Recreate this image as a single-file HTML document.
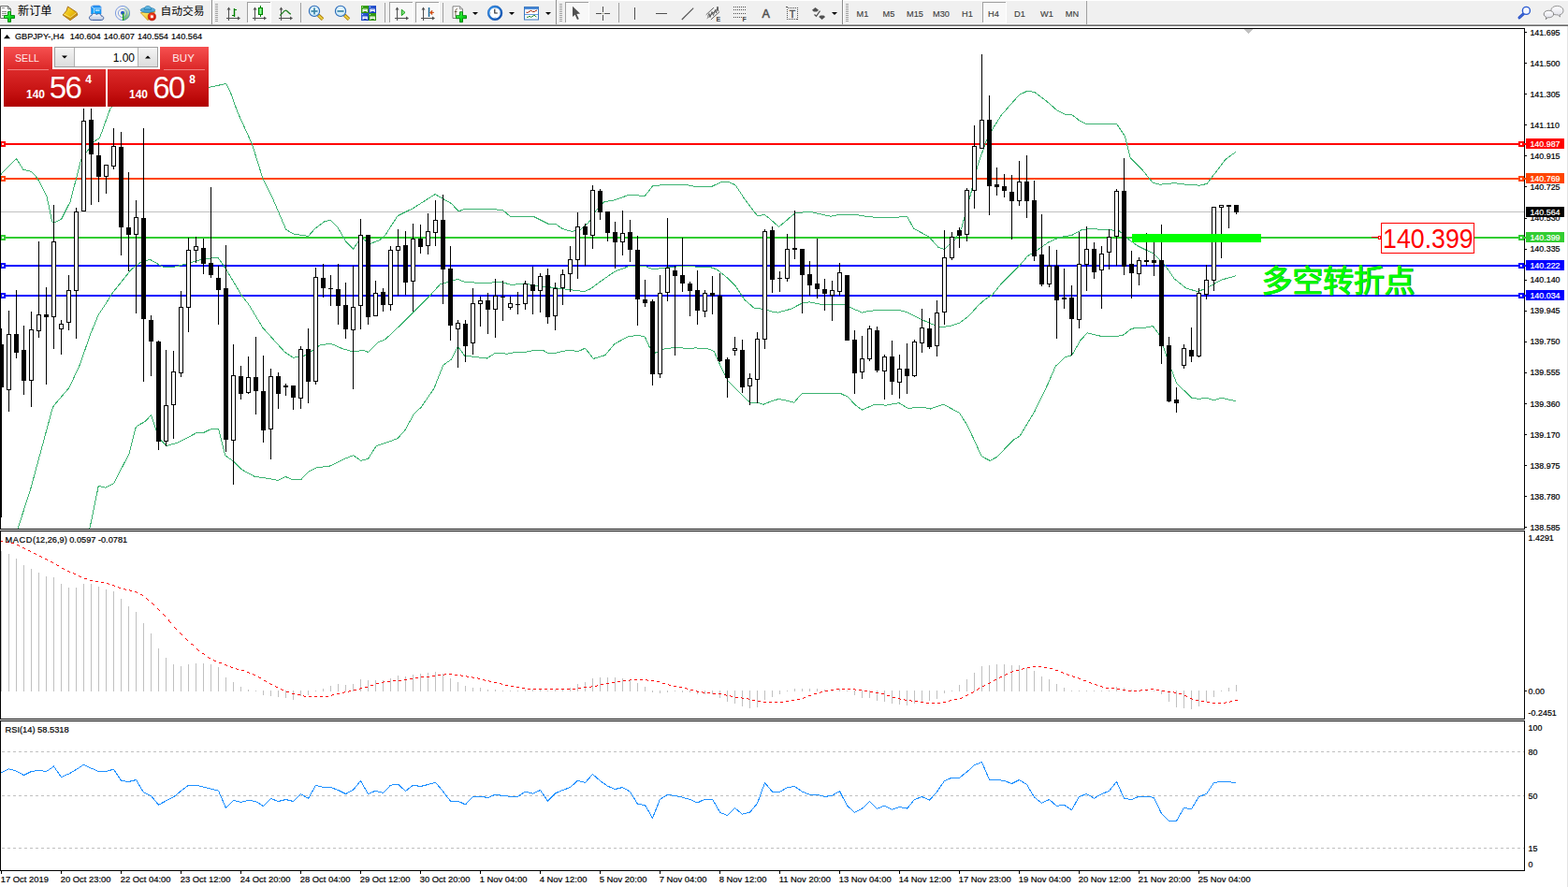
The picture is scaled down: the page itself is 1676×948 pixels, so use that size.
<!DOCTYPE html>
<html><head><meta charset="utf-8"><title>GBPJPY H4</title>
<style>
html,body{margin:0;padding:0;background:#fff}
body{width:1676px;height:948px;overflow:hidden;position:relative}
svg{position:absolute;left:0;top:0;font-family:"Liberation Sans",sans-serif}
</style></head><body>
<svg width="1676" height="948" viewBox="0 0 1676 948">
<rect x="0" y="0" width="1676" height="948" fill="#fff"/>
<g shape-rendering="crispEdges">
<rect x="1" y="226" width="1628" height="1" fill="#c0c0c0"/>
<rect x="0" y="153" width="1631" height="2" fill="#ff0000"/>
<rect x="0" y="190" width="1631" height="2" fill="#ff4500"/>
<rect x="0" y="253" width="1631" height="2" fill="#32cd32"/>
<rect x="0" y="283" width="1631" height="2" fill="#0000ff"/>
<rect x="0" y="315" width="1631" height="2" fill="#0000ff"/>
<rect x="0" y="151" width="6" height="6" fill="#ff0000"/><rect x="2" y="153" width="2" height="2" fill="#fff"/>
<rect x="1623" y="151" width="6" height="6" fill="#ff0000"/><rect x="1625" y="153" width="2" height="2" fill="#fff"/>
<rect x="0" y="188" width="6" height="6" fill="#ff4500"/><rect x="2" y="190" width="2" height="2" fill="#fff"/>
<rect x="1623" y="188" width="6" height="6" fill="#ff4500"/><rect x="1625" y="190" width="2" height="2" fill="#fff"/>
<rect x="0" y="251" width="6" height="6" fill="#32cd32"/><rect x="2" y="253" width="2" height="2" fill="#fff"/>
<rect x="1623" y="251" width="6" height="6" fill="#32cd32"/><rect x="1625" y="253" width="2" height="2" fill="#fff"/>
<rect x="0" y="281" width="6" height="6" fill="#0000ff"/><rect x="2" y="283" width="2" height="2" fill="#fff"/>
<rect x="1623" y="281" width="6" height="6" fill="#0000ff"/><rect x="1625" y="283" width="2" height="2" fill="#fff"/>
<rect x="0" y="313" width="6" height="6" fill="#0000ff"/><rect x="2" y="315" width="2" height="2" fill="#fff"/>
<rect x="1623" y="313" width="6" height="6" fill="#0000ff"/><rect x="1625" y="315" width="2" height="2" fill="#fff"/>
<polyline points="0.0,189.0 1.7,185.6 17.3,169.4 25.0,181.4 33.3,183.2 37.6,187.7 42.2,194.0 50.1,210.3 55.7,237.0 57.4,238.5 65.7,234.1 75.2,215.3 86.5,171.4 100.2,151.4 106.5,147.6 117.8,116.3 125.0,108.0 140.0,100.0 180.0,93.0 225.0,93.0 241.7,89.5 246.8,100.0 254.0,120.0 269.4,153.9 280.7,190.2 290.7,210.3 305.7,245.3 313.2,249.9 329.5,252.4 337.0,244.1 347.1,236.6 353.3,235.3 360.9,242.8 369.6,257.9 377.6,266.1 385.9,254.1 395.9,260.4 406.0,256.6 412.0,251.0 425.0,230.7 441.3,222.7 465.1,207.6 482.7,217.7 490.2,225.9 496.5,223.4 525.3,223.4 537.8,224.7 545.3,231.4 570.4,231.4 585.4,239.0 594.2,239.7 601.7,244.7 610.5,247.2 619.3,246.5 629.3,237.7 636.8,225.2 645.6,215.7 656.8,213.9 671.9,208.4 689.4,209.4 698.2,198.1 733.3,197.6 743.3,199.4 760.8,199.4 770.9,194.4 778.4,194.4 785.9,197.6 795.9,212.7 809.7,230.9 817.2,229.4 822.0,233.0 832.5,242.5 849.6,228.0 865.1,226.2 887.7,231.2 897.7,229.2 916.5,229.7 927.8,231.7 950.3,233.0 969.6,231.2 976.6,244.3 992.9,253.0 1002.9,264.3 1009.2,266.3 1020.5,256.8 1028.0,243.0 1036.8,210.4 1045.5,175.3 1054.3,150.3 1061.8,136.5 1070.6,122.7 1080.6,111.4 1089.4,101.4 1098.2,97.2 1105.7,98.4 1118.2,107.7 1129.5,117.7 1138.3,122.2 1145.8,122.7 1154.6,129.5 1160.8,132.2 1193.4,132.2 1202.2,145.3 1208.4,169.1 1221.0,181.6 1232.3,195.4 1240.0,197.2 1255.0,195.7 1267.6,197.2 1282.6,198.2 1290.1,196.4 1297.7,186.4 1310.2,170.1 1320.7,162.6" fill="none" stroke="#3cb371" stroke-width="1"/>
<polyline points="19.0,566.0 20.0,562.0 32.6,523.0 56.4,435.3 58.1,432.8 73.9,414.5 85.2,390.2 96.5,357.6 105.3,336.3 112.8,325.0 120.3,313.0 140.3,288.0 150.4,280.4 160.4,277.4 175.4,285.9 188.0,284.9 200.5,281.7 218.0,276.7 233.1,275.4 241.8,288.0 258.1,315.5 265.6,325.0 280.7,350.1 304.5,376.4 313.2,382.1 323.3,381.4 333.3,375.1 342.1,368.9 353.3,367.1 365.9,372.6 377.2,375.9 388.4,374.4 393.4,376.4 403.5,366.3 412.0,362.5 428.8,346.7 442.6,332.9 460.1,315.4 470.1,304.1 488.9,298.4 496.5,301.1 517.8,302.9 535.3,301.1 546.6,304.6 560.4,302.9 572.9,305.4 585.4,306.6 600.5,308.6 624.3,311.6 630.5,309.1 644.3,299.1 656.8,290.3 671.9,284.8 688.2,284.1 698.2,287.8 710.7,286.1 733.3,284.1 745.8,285.3 758.3,285.3 765.9,287.8 777.1,296.6 785.9,305.4 795.9,320.4 806.0,329.2 816.0,330.4 826.0,333.2 831.3,334.1 845.1,330.3 857.6,324.0 865.1,322.8 877.6,325.3 902.7,325.3 912.7,330.3 921.5,334.1 930.3,332.1 960.3,331.1 970.4,334.1 985.4,341.6 995.4,346.1 1005.4,349.6 1015.5,348.6 1025.5,345.3 1035.5,337.8 1045.5,326.6 1053.1,319.8 1060.6,315.3 1070.6,302.7 1083.1,290.2 1091.9,281.4 1098.2,273.9 1108.2,267.7 1120.7,258.9 1133.3,253.4 1145.8,251.4 1155.8,245.9 1165.8,244.4 1180.9,245.6 1195.9,246.4 1205.9,255.6 1216.0,262.7 1226.0,267.7 1233.0,271.0 1245.0,282.9 1255.1,297.9 1267.6,307.9 1280.1,311.7 1290.1,307.9 1305.2,299.2 1320.7,294.9" fill="none" stroke="#3cb371" stroke-width="1"/>
<polyline points="95.5,566.0 96.5,562.0 105.3,519.2 112.8,521.2 121.5,516.7 137.8,485.4 144.8,457.8 146.6,455.3 155.4,450.3 161.6,443.3 166.7,459.1 172.9,471.6 177.9,476.6 190.5,472.9 200.5,467.8 210.5,462.3 216.8,462.8 225.5,458.6 233.6,458.6 240.6,486.6 249.4,492.9 258.1,501.7 271.9,509.2 288.2,511.7 297.0,513.4 305.2,509.4 313.2,512.9 321.5,512.9 329.5,504.2 338.3,499.9 353.3,497.9 368.4,490.4 377.6,486.6 385.9,492.4 393.4,490.4 402.2,476.6 412.0,473.5 425.0,468.6 432.6,460.3 442.6,442.3 450.1,435.3 463.9,415.2 473.9,390.1 482.7,383.9 489.4,370.1 496.5,380.1 520.3,383.1 529.0,377.6 542.8,378.1 550.3,376.4 561.6,376.4 570.4,374.4 580.4,374.4 585.4,377.1 594.2,377.1 603.0,375.1 610.5,374.4 618.0,375.6 625.5,372.1 634.3,383.4 646.8,379.6 656.8,367.6 670.6,360.1 681.9,358.3 689.4,360.1 694.4,371.4 700.7,377.1 710.7,372.6 723.3,371.4 735.8,372.6 743.3,371.9 758.3,373.1 763.4,375.9 770.9,392.7 778.4,407.7 793.4,422.7 802.2,430.7 809.7,430.2 816.0,432.2 824.0,429.0 832.5,426.4 848.8,430.1 857.6,420.1 897.7,420.1 906.5,424.4 914.0,432.6 921.5,438.1 934.0,432.6 947.8,433.1 960.8,430.6 970.4,436.4 986.6,435.1 994.2,437.1 1008.4,432.1 1025.5,441.4 1034.3,455.2 1049.3,487.8 1058.1,492.3 1065.6,488.5 1083.1,470.2 1090.1,466.0 1105.7,440.1 1113.0,425.0 1120.0,410.5 1128.3,391.4 1138.2,382.0 1145.8,379.6 1154.6,364.1 1162.1,355.9 1175.9,359.1 1195.9,359.1 1200.9,357.9 1209.7,351.1 1223.5,350.4 1232.3,348.4 1240.0,358.8 1246.3,378.9 1251.3,392.7 1257.6,409.7 1273.9,425.2 1281.4,426.5 1288.9,425.2 1297.7,427.7 1305.2,425.2 1312.7,427.0 1320.7,428.5" fill="none" stroke="#3cb371" stroke-width="1"/>
</g>
<g shape-rendering="crispEdges">
<rect x="1" y="351" width="1" height="202" fill="#000"/>
<rect x="-1" y="368" width="5" height="46" fill="#000"/>
<rect x="9" y="332" width="1" height="108" fill="#000"/>
<rect x="7" y="357" width="5" height="60" fill="#000"/>
<rect x="8" y="358" width="3" height="58" fill="#fff"/>
<rect x="17" y="310" width="1" height="73" fill="#000"/>
<rect x="15" y="357" width="5" height="20" fill="#000"/>
<rect x="25" y="348" width="1" height="74" fill="#000"/>
<rect x="23" y="374" width="5" height="33" fill="#000"/>
<rect x="33" y="333" width="1" height="102" fill="#000"/>
<rect x="31" y="352" width="5" height="55" fill="#000"/>
<rect x="32" y="353" width="3" height="53" fill="#fff"/>
<rect x="41" y="258" width="1" height="103" fill="#000"/>
<rect x="39" y="336" width="5" height="18" fill="#000"/>
<rect x="40" y="337" width="3" height="16" fill="#fff"/>
<rect x="49" y="307" width="1" height="104" fill="#000"/>
<rect x="47" y="336" width="5" height="3" fill="#000"/>
<rect x="57" y="219" width="1" height="154" fill="#000"/>
<rect x="55" y="258" width="5" height="81" fill="#000"/>
<rect x="56" y="259" width="3" height="79" fill="#fff"/>
<rect x="65" y="342" width="1" height="37" fill="#000"/>
<rect x="63" y="346" width="5" height="6" fill="#000"/>
<rect x="64" y="347" width="3" height="4" fill="#fff"/>
<rect x="73" y="294" width="1" height="59" fill="#000"/>
<rect x="71" y="310" width="5" height="35" fill="#000"/>
<rect x="72" y="311" width="3" height="33" fill="#fff"/>
<rect x="81" y="222" width="1" height="140" fill="#000"/>
<rect x="79" y="226" width="5" height="85" fill="#000"/>
<rect x="80" y="227" width="3" height="83" fill="#fff"/>
<rect x="89" y="116" width="1" height="110" fill="#000"/>
<rect x="87" y="129" width="5" height="97" fill="#000"/>
<rect x="88" y="130" width="3" height="95" fill="#fff"/>
<rect x="97" y="116" width="1" height="103" fill="#000"/>
<rect x="95" y="128" width="5" height="37" fill="#000"/>
<rect x="105" y="152" width="1" height="64" fill="#000"/>
<rect x="103" y="166" width="5" height="23" fill="#000"/>
<rect x="113" y="176" width="1" height="31" fill="#000"/>
<rect x="111" y="176" width="5" height="13" fill="#000"/>
<rect x="112" y="177" width="3" height="11" fill="#fff"/>
<rect x="121" y="137" width="1" height="44" fill="#000"/>
<rect x="119" y="156" width="5" height="22" fill="#000"/>
<rect x="120" y="157" width="3" height="20" fill="#fff"/>
<rect x="129" y="141" width="1" height="132" fill="#000"/>
<rect x="127" y="157" width="5" height="86" fill="#000"/>
<rect x="137" y="184" width="1" height="106" fill="#000"/>
<rect x="135" y="243" width="5" height="8" fill="#000"/>
<rect x="145" y="214" width="1" height="121" fill="#000"/>
<rect x="143" y="232" width="5" height="19" fill="#000"/>
<rect x="144" y="233" width="3" height="17" fill="#fff"/>
<rect x="153" y="137" width="1" height="271" fill="#000"/>
<rect x="151" y="233" width="5" height="108" fill="#000"/>
<rect x="161" y="337" width="1" height="65" fill="#000"/>
<rect x="159" y="342" width="5" height="23" fill="#000"/>
<rect x="169" y="364" width="1" height="117" fill="#000"/>
<rect x="167" y="365" width="5" height="107" fill="#000"/>
<rect x="177" y="374" width="1" height="103" fill="#000"/>
<rect x="175" y="433" width="5" height="39" fill="#000"/>
<rect x="176" y="434" width="3" height="37" fill="#fff"/>
<rect x="185" y="375" width="1" height="94" fill="#000"/>
<rect x="183" y="397" width="5" height="36" fill="#000"/>
<rect x="184" y="398" width="3" height="34" fill="#fff"/>
<rect x="193" y="311" width="1" height="92" fill="#000"/>
<rect x="191" y="328" width="5" height="71" fill="#000"/>
<rect x="192" y="329" width="3" height="69" fill="#fff"/>
<rect x="201" y="254" width="1" height="101" fill="#000"/>
<rect x="199" y="267" width="5" height="62" fill="#000"/>
<rect x="200" y="268" width="3" height="60" fill="#fff"/>
<rect x="209" y="253" width="1" height="28" fill="#000"/>
<rect x="207" y="263" width="5" height="5" fill="#000"/>
<rect x="208" y="264" width="3" height="3" fill="#fff"/>
<rect x="217" y="255" width="1" height="38" fill="#000"/>
<rect x="215" y="265" width="5" height="17" fill="#000"/>
<rect x="225" y="200" width="1" height="97" fill="#000"/>
<rect x="223" y="281" width="5" height="13" fill="#000"/>
<rect x="233" y="284" width="1" height="63" fill="#000"/>
<rect x="231" y="297" width="5" height="13" fill="#000"/>
<rect x="241" y="262" width="1" height="221" fill="#000"/>
<rect x="239" y="308" width="5" height="162" fill="#000"/>
<rect x="249" y="368" width="1" height="150" fill="#000"/>
<rect x="247" y="401" width="5" height="70" fill="#000"/>
<rect x="248" y="402" width="3" height="68" fill="#fff"/>
<rect x="257" y="391" width="1" height="36" fill="#000"/>
<rect x="255" y="402" width="5" height="19" fill="#000"/>
<rect x="265" y="381" width="1" height="40" fill="#000"/>
<rect x="263" y="403" width="5" height="17" fill="#000"/>
<rect x="264" y="404" width="3" height="15" fill="#fff"/>
<rect x="273" y="360" width="1" height="83" fill="#000"/>
<rect x="271" y="403" width="5" height="15" fill="#000"/>
<rect x="281" y="380" width="1" height="93" fill="#000"/>
<rect x="279" y="418" width="5" height="42" fill="#000"/>
<rect x="289" y="394" width="1" height="97" fill="#000"/>
<rect x="287" y="402" width="5" height="57" fill="#000"/>
<rect x="288" y="403" width="3" height="55" fill="#fff"/>
<rect x="297" y="398" width="1" height="39" fill="#000"/>
<rect x="295" y="402" width="5" height="19" fill="#000"/>
<rect x="305" y="410" width="1" height="13" fill="#000"/>
<rect x="303" y="412" width="5" height="2" fill="#000"/>
<rect x="313" y="412" width="1" height="26" fill="#000"/>
<rect x="311" y="412" width="5" height="13" fill="#000"/>
<rect x="321" y="370" width="1" height="67" fill="#000"/>
<rect x="319" y="373" width="5" height="53" fill="#000"/>
<rect x="320" y="374" width="3" height="51" fill="#fff"/>
<rect x="329" y="351" width="1" height="80" fill="#000"/>
<rect x="327" y="373" width="5" height="35" fill="#000"/>
<rect x="337" y="286" width="1" height="125" fill="#000"/>
<rect x="335" y="296" width="5" height="112" fill="#000"/>
<rect x="336" y="297" width="3" height="110" fill="#fff"/>
<rect x="345" y="282" width="1" height="36" fill="#000"/>
<rect x="343" y="297" width="5" height="11" fill="#000"/>
<rect x="353" y="294" width="1" height="33" fill="#000"/>
<rect x="351" y="308" width="5" height="1" fill="#000"/>
<rect x="361" y="282" width="1" height="65" fill="#000"/>
<rect x="359" y="309" width="5" height="18" fill="#000"/>
<rect x="369" y="302" width="1" height="60" fill="#000"/>
<rect x="367" y="326" width="5" height="26" fill="#000"/>
<rect x="377" y="284" width="1" height="132" fill="#000"/>
<rect x="375" y="328" width="5" height="25" fill="#000"/>
<rect x="376" y="329" width="3" height="23" fill="#fff"/>
<rect x="385" y="234" width="1" height="118" fill="#000"/>
<rect x="383" y="251" width="5" height="76" fill="#000"/>
<rect x="384" y="252" width="3" height="74" fill="#fff"/>
<rect x="393" y="251" width="1" height="96" fill="#000"/>
<rect x="391" y="251" width="5" height="88" fill="#000"/>
<rect x="401" y="300" width="1" height="38" fill="#000"/>
<rect x="399" y="313" width="5" height="25" fill="#000"/>
<rect x="400" y="314" width="3" height="23" fill="#fff"/>
<rect x="409" y="308" width="1" height="25" fill="#000"/>
<rect x="407" y="312" width="5" height="14" fill="#000"/>
<rect x="417" y="263" width="1" height="69" fill="#000"/>
<rect x="415" y="267" width="5" height="59" fill="#000"/>
<rect x="416" y="268" width="3" height="57" fill="#fff"/>
<rect x="425" y="245" width="1" height="71" fill="#000"/>
<rect x="423" y="263" width="5" height="5" fill="#000"/>
<rect x="424" y="264" width="3" height="3" fill="#fff"/>
<rect x="433" y="247" width="1" height="68" fill="#000"/>
<rect x="431" y="262" width="5" height="40" fill="#000"/>
<rect x="441" y="239" width="1" height="94" fill="#000"/>
<rect x="439" y="255" width="5" height="46" fill="#000"/>
<rect x="440" y="256" width="3" height="44" fill="#fff"/>
<rect x="449" y="240" width="1" height="31" fill="#000"/>
<rect x="447" y="255" width="5" height="9" fill="#000"/>
<rect x="457" y="228" width="1" height="44" fill="#000"/>
<rect x="455" y="247" width="5" height="16" fill="#000"/>
<rect x="456" y="248" width="3" height="14" fill="#fff"/>
<rect x="465" y="214" width="1" height="49" fill="#000"/>
<rect x="463" y="235" width="5" height="14" fill="#000"/>
<rect x="464" y="236" width="3" height="12" fill="#fff"/>
<rect x="473" y="208" width="1" height="117" fill="#000"/>
<rect x="471" y="235" width="5" height="53" fill="#000"/>
<rect x="481" y="263" width="1" height="101" fill="#000"/>
<rect x="479" y="287" width="5" height="61" fill="#000"/>
<rect x="489" y="342" width="1" height="51" fill="#000"/>
<rect x="487" y="345" width="5" height="7" fill="#000"/>
<rect x="488" y="346" width="3" height="5" fill="#fff"/>
<rect x="497" y="342" width="1" height="45" fill="#000"/>
<rect x="495" y="346" width="5" height="24" fill="#000"/>
<rect x="505" y="308" width="1" height="71" fill="#000"/>
<rect x="503" y="324" width="5" height="43" fill="#000"/>
<rect x="504" y="325" width="3" height="41" fill="#fff"/>
<rect x="513" y="317" width="1" height="32" fill="#000"/>
<rect x="511" y="321" width="5" height="4" fill="#000"/>
<rect x="512" y="322" width="3" height="2" fill="#fff"/>
<rect x="521" y="313" width="1" height="44" fill="#000"/>
<rect x="519" y="321" width="5" height="10" fill="#000"/>
<rect x="529" y="298" width="1" height="63" fill="#000"/>
<rect x="527" y="316" width="5" height="15" fill="#000"/>
<rect x="528" y="317" width="3" height="13" fill="#fff"/>
<rect x="537" y="300" width="1" height="43" fill="#000"/>
<rect x="535" y="317" width="5" height="1" fill="#000"/>
<rect x="545" y="317" width="1" height="14" fill="#000"/>
<rect x="543" y="324" width="5" height="5" fill="#000"/>
<rect x="544" y="325" width="3" height="3" fill="#fff"/>
<rect x="553" y="312" width="1" height="24" fill="#000"/>
<rect x="551" y="325" width="5" height="1" fill="#000"/>
<rect x="561" y="300" width="1" height="31" fill="#000"/>
<rect x="559" y="303" width="5" height="22" fill="#000"/>
<rect x="560" y="304" width="3" height="20" fill="#fff"/>
<rect x="569" y="285" width="1" height="51" fill="#000"/>
<rect x="567" y="304" width="5" height="7" fill="#000"/>
<rect x="577" y="292" width="1" height="42" fill="#000"/>
<rect x="575" y="295" width="5" height="16" fill="#000"/>
<rect x="576" y="296" width="3" height="14" fill="#fff"/>
<rect x="585" y="287" width="1" height="59" fill="#000"/>
<rect x="583" y="294" width="5" height="45" fill="#000"/>
<rect x="593" y="302" width="1" height="51" fill="#000"/>
<rect x="591" y="308" width="5" height="30" fill="#000"/>
<rect x="592" y="309" width="3" height="28" fill="#fff"/>
<rect x="601" y="288" width="1" height="38" fill="#000"/>
<rect x="599" y="293" width="5" height="15" fill="#000"/>
<rect x="600" y="294" width="3" height="13" fill="#fff"/>
<rect x="609" y="263" width="1" height="49" fill="#000"/>
<rect x="607" y="277" width="5" height="16" fill="#000"/>
<rect x="608" y="278" width="3" height="14" fill="#fff"/>
<rect x="617" y="227" width="1" height="71" fill="#000"/>
<rect x="615" y="242" width="5" height="36" fill="#000"/>
<rect x="616" y="243" width="3" height="34" fill="#fff"/>
<rect x="625" y="239" width="1" height="45" fill="#000"/>
<rect x="623" y="242" width="5" height="9" fill="#000"/>
<rect x="633" y="198" width="1" height="68" fill="#000"/>
<rect x="631" y="203" width="5" height="49" fill="#000"/>
<rect x="632" y="204" width="3" height="47" fill="#fff"/>
<rect x="641" y="202" width="1" height="33" fill="#000"/>
<rect x="639" y="204" width="5" height="23" fill="#000"/>
<rect x="649" y="226" width="1" height="32" fill="#000"/>
<rect x="647" y="226" width="5" height="23" fill="#000"/>
<rect x="657" y="237" width="1" height="50" fill="#000"/>
<rect x="655" y="248" width="5" height="11" fill="#000"/>
<rect x="665" y="225" width="1" height="48" fill="#000"/>
<rect x="663" y="249" width="5" height="10" fill="#000"/>
<rect x="664" y="250" width="3" height="8" fill="#fff"/>
<rect x="673" y="235" width="1" height="45" fill="#000"/>
<rect x="671" y="248" width="5" height="19" fill="#000"/>
<rect x="681" y="252" width="1" height="96" fill="#000"/>
<rect x="679" y="267" width="5" height="53" fill="#000"/>
<rect x="689" y="299" width="1" height="29" fill="#000"/>
<rect x="687" y="320" width="5" height="4" fill="#000"/>
<rect x="697" y="320" width="1" height="92" fill="#000"/>
<rect x="695" y="322" width="5" height="78" fill="#000"/>
<rect x="705" y="294" width="1" height="110" fill="#000"/>
<rect x="703" y="313" width="5" height="87" fill="#000"/>
<rect x="704" y="314" width="3" height="85" fill="#fff"/>
<rect x="713" y="233" width="1" height="89" fill="#000"/>
<rect x="711" y="286" width="5" height="27" fill="#000"/>
<rect x="712" y="287" width="3" height="25" fill="#fff"/>
<rect x="721" y="284" width="1" height="96" fill="#000"/>
<rect x="719" y="289" width="5" height="6" fill="#000"/>
<rect x="729" y="254" width="1" height="58" fill="#000"/>
<rect x="727" y="294" width="5" height="9" fill="#000"/>
<rect x="737" y="301" width="1" height="37" fill="#000"/>
<rect x="735" y="303" width="5" height="8" fill="#000"/>
<rect x="745" y="289" width="1" height="58" fill="#000"/>
<rect x="743" y="310" width="5" height="22" fill="#000"/>
<rect x="753" y="310" width="1" height="29" fill="#000"/>
<rect x="751" y="313" width="5" height="20" fill="#000"/>
<rect x="752" y="314" width="3" height="18" fill="#fff"/>
<rect x="761" y="295" width="1" height="41" fill="#000"/>
<rect x="759" y="313" width="5" height="3" fill="#000"/>
<rect x="769" y="292" width="1" height="95" fill="#000"/>
<rect x="767" y="316" width="5" height="70" fill="#000"/>
<rect x="777" y="382" width="1" height="43" fill="#000"/>
<rect x="775" y="384" width="5" height="20" fill="#000"/>
<rect x="785" y="360" width="1" height="20" fill="#000"/>
<rect x="783" y="372" width="5" height="3" fill="#000"/>
<rect x="784" y="373" width="3" height="1" fill="#fff"/>
<rect x="793" y="363" width="1" height="57" fill="#000"/>
<rect x="791" y="374" width="5" height="40" fill="#000"/>
<rect x="801" y="399" width="1" height="34" fill="#000"/>
<rect x="799" y="404" width="5" height="9" fill="#000"/>
<rect x="800" y="405" width="3" height="7" fill="#fff"/>
<rect x="809" y="355" width="1" height="76" fill="#000"/>
<rect x="807" y="362" width="5" height="44" fill="#000"/>
<rect x="808" y="363" width="3" height="42" fill="#fff"/>
<rect x="817" y="245" width="1" height="128" fill="#000"/>
<rect x="815" y="247" width="5" height="116" fill="#000"/>
<rect x="816" y="248" width="3" height="114" fill="#fff"/>
<rect x="825" y="242" width="1" height="71" fill="#000"/>
<rect x="823" y="246" width="5" height="53" fill="#000"/>
<rect x="833" y="290" width="1" height="22" fill="#000"/>
<rect x="831" y="297" width="5" height="1" fill="#000"/>
<rect x="841" y="250" width="1" height="51" fill="#000"/>
<rect x="839" y="266" width="5" height="32" fill="#000"/>
<rect x="840" y="267" width="3" height="30" fill="#fff"/>
<rect x="849" y="225" width="1" height="52" fill="#000"/>
<rect x="847" y="265" width="5" height="2" fill="#000"/>
<rect x="857" y="266" width="1" height="69" fill="#000"/>
<rect x="855" y="266" width="5" height="28" fill="#000"/>
<rect x="865" y="279" width="1" height="37" fill="#000"/>
<rect x="863" y="293" width="5" height="12" fill="#000"/>
<rect x="873" y="255" width="1" height="64" fill="#000"/>
<rect x="871" y="303" width="5" height="6" fill="#000"/>
<rect x="881" y="298" width="1" height="34" fill="#000"/>
<rect x="879" y="309" width="5" height="5" fill="#000"/>
<rect x="889" y="300" width="1" height="43" fill="#000"/>
<rect x="887" y="310" width="5" height="6" fill="#000"/>
<rect x="888" y="311" width="3" height="4" fill="#fff"/>
<rect x="897" y="281" width="1" height="35" fill="#000"/>
<rect x="895" y="291" width="5" height="21" fill="#000"/>
<rect x="896" y="292" width="3" height="19" fill="#fff"/>
<rect x="905" y="294" width="1" height="70" fill="#000"/>
<rect x="903" y="294" width="5" height="70" fill="#000"/>
<rect x="913" y="353" width="1" height="68" fill="#000"/>
<rect x="911" y="363" width="5" height="36" fill="#000"/>
<rect x="921" y="359" width="1" height="46" fill="#000"/>
<rect x="919" y="383" width="5" height="15" fill="#000"/>
<rect x="920" y="384" width="3" height="13" fill="#fff"/>
<rect x="929" y="348" width="1" height="38" fill="#000"/>
<rect x="927" y="351" width="5" height="33" fill="#000"/>
<rect x="928" y="352" width="3" height="31" fill="#fff"/>
<rect x="937" y="349" width="1" height="49" fill="#000"/>
<rect x="935" y="353" width="5" height="43" fill="#000"/>
<rect x="945" y="379" width="1" height="48" fill="#000"/>
<rect x="943" y="381" width="5" height="16" fill="#000"/>
<rect x="944" y="382" width="3" height="14" fill="#fff"/>
<rect x="953" y="364" width="1" height="58" fill="#000"/>
<rect x="951" y="381" width="5" height="27" fill="#000"/>
<rect x="961" y="379" width="1" height="47" fill="#000"/>
<rect x="959" y="394" width="5" height="15" fill="#000"/>
<rect x="960" y="395" width="3" height="13" fill="#fff"/>
<rect x="969" y="367" width="1" height="54" fill="#000"/>
<rect x="967" y="394" width="5" height="8" fill="#000"/>
<rect x="977" y="363" width="1" height="40" fill="#000"/>
<rect x="975" y="365" width="5" height="37" fill="#000"/>
<rect x="976" y="366" width="3" height="35" fill="#fff"/>
<rect x="985" y="330" width="1" height="47" fill="#000"/>
<rect x="983" y="350" width="5" height="17" fill="#000"/>
<rect x="984" y="351" width="3" height="15" fill="#fff"/>
<rect x="993" y="340" width="1" height="33" fill="#000"/>
<rect x="991" y="351" width="5" height="20" fill="#000"/>
<rect x="1001" y="321" width="1" height="60" fill="#000"/>
<rect x="999" y="334" width="5" height="36" fill="#000"/>
<rect x="1000" y="335" width="3" height="34" fill="#fff"/>
<rect x="1009" y="246" width="1" height="101" fill="#000"/>
<rect x="1007" y="275" width="5" height="59" fill="#000"/>
<rect x="1008" y="276" width="3" height="57" fill="#fff"/>
<rect x="1017" y="248" width="1" height="30" fill="#000"/>
<rect x="1015" y="253" width="5" height="23" fill="#000"/>
<rect x="1016" y="254" width="3" height="21" fill="#fff"/>
<rect x="1025" y="243" width="1" height="22" fill="#000"/>
<rect x="1023" y="246" width="5" height="6" fill="#000"/>
<rect x="1033" y="201" width="1" height="57" fill="#000"/>
<rect x="1031" y="203" width="5" height="48" fill="#000"/>
<rect x="1032" y="204" width="3" height="46" fill="#fff"/>
<rect x="1041" y="134" width="1" height="89" fill="#000"/>
<rect x="1039" y="156" width="5" height="48" fill="#000"/>
<rect x="1040" y="157" width="3" height="46" fill="#fff"/>
<rect x="1049" y="58" width="1" height="101" fill="#000"/>
<rect x="1047" y="128" width="5" height="31" fill="#000"/>
<rect x="1048" y="129" width="3" height="29" fill="#fff"/>
<rect x="1057" y="102" width="1" height="128" fill="#000"/>
<rect x="1055" y="128" width="5" height="71" fill="#000"/>
<rect x="1065" y="179" width="1" height="30" fill="#000"/>
<rect x="1063" y="197" width="5" height="3" fill="#000"/>
<rect x="1073" y="186" width="1" height="25" fill="#000"/>
<rect x="1071" y="199" width="5" height="5" fill="#000"/>
<rect x="1081" y="187" width="1" height="69" fill="#000"/>
<rect x="1079" y="205" width="5" height="10" fill="#000"/>
<rect x="1089" y="172" width="1" height="48" fill="#000"/>
<rect x="1087" y="194" width="5" height="21" fill="#000"/>
<rect x="1088" y="195" width="3" height="19" fill="#fff"/>
<rect x="1097" y="166" width="1" height="67" fill="#000"/>
<rect x="1095" y="194" width="5" height="21" fill="#000"/>
<rect x="1105" y="193" width="1" height="86" fill="#000"/>
<rect x="1103" y="214" width="5" height="60" fill="#000"/>
<rect x="1113" y="229" width="1" height="77" fill="#000"/>
<rect x="1111" y="272" width="5" height="32" fill="#000"/>
<rect x="1121" y="263" width="1" height="44" fill="#000"/>
<rect x="1119" y="284" width="5" height="20" fill="#000"/>
<rect x="1120" y="285" width="3" height="18" fill="#fff"/>
<rect x="1129" y="267" width="1" height="95" fill="#000"/>
<rect x="1127" y="284" width="5" height="37" fill="#000"/>
<rect x="1137" y="287" width="1" height="43" fill="#000"/>
<rect x="1135" y="318" width="5" height="2" fill="#000"/>
<rect x="1145" y="305" width="1" height="75" fill="#000"/>
<rect x="1143" y="318" width="5" height="23" fill="#000"/>
<rect x="1153" y="248" width="1" height="103" fill="#000"/>
<rect x="1151" y="282" width="5" height="60" fill="#000"/>
<rect x="1152" y="283" width="3" height="58" fill="#fff"/>
<rect x="1161" y="242" width="1" height="69" fill="#000"/>
<rect x="1159" y="266" width="5" height="17" fill="#000"/>
<rect x="1160" y="267" width="3" height="15" fill="#fff"/>
<rect x="1169" y="259" width="1" height="39" fill="#000"/>
<rect x="1167" y="266" width="5" height="25" fill="#000"/>
<rect x="1177" y="263" width="1" height="67" fill="#000"/>
<rect x="1175" y="271" width="5" height="18" fill="#000"/>
<rect x="1176" y="272" width="3" height="16" fill="#fff"/>
<rect x="1185" y="245" width="1" height="43" fill="#000"/>
<rect x="1183" y="253" width="5" height="17" fill="#000"/>
<rect x="1184" y="254" width="3" height="15" fill="#fff"/>
<rect x="1193" y="202" width="1" height="82" fill="#000"/>
<rect x="1191" y="204" width="5" height="49" fill="#000"/>
<rect x="1192" y="205" width="3" height="47" fill="#fff"/>
<rect x="1201" y="169" width="1" height="125" fill="#000"/>
<rect x="1199" y="204" width="5" height="81" fill="#000"/>
<rect x="1209" y="268" width="1" height="51" fill="#000"/>
<rect x="1207" y="282" width="5" height="10" fill="#000"/>
<rect x="1217" y="275" width="1" height="30" fill="#000"/>
<rect x="1215" y="278" width="5" height="15" fill="#000"/>
<rect x="1216" y="279" width="3" height="13" fill="#fff"/>
<rect x="1225" y="249" width="1" height="35" fill="#000"/>
<rect x="1223" y="278" width="5" height="2" fill="#000"/>
<rect x="1233" y="259" width="1" height="36" fill="#000"/>
<rect x="1231" y="278" width="5" height="3" fill="#000"/>
<rect x="1241" y="240" width="1" height="149" fill="#000"/>
<rect x="1239" y="278" width="5" height="92" fill="#000"/>
<rect x="1249" y="360" width="1" height="70" fill="#000"/>
<rect x="1247" y="369" width="5" height="60" fill="#000"/>
<rect x="1257" y="414" width="1" height="27" fill="#000"/>
<rect x="1255" y="427" width="5" height="4" fill="#000"/>
<rect x="1265" y="368" width="1" height="26" fill="#000"/>
<rect x="1263" y="372" width="5" height="19" fill="#000"/>
<rect x="1264" y="373" width="3" height="17" fill="#fff"/>
<rect x="1273" y="350" width="1" height="37" fill="#000"/>
<rect x="1271" y="374" width="5" height="7" fill="#000"/>
<rect x="1281" y="308" width="1" height="74" fill="#000"/>
<rect x="1279" y="313" width="5" height="68" fill="#000"/>
<rect x="1280" y="314" width="3" height="66" fill="#fff"/>
<rect x="1289" y="283" width="1" height="37" fill="#000"/>
<rect x="1287" y="299" width="5" height="16" fill="#000"/>
<rect x="1288" y="300" width="3" height="14" fill="#fff"/>
<rect x="1297" y="221" width="1" height="90" fill="#000"/>
<rect x="1295" y="221" width="5" height="79" fill="#000"/>
<rect x="1296" y="222" width="3" height="77" fill="#fff"/>
<rect x="1305" y="219" width="1" height="57" fill="#000"/>
<rect x="1303" y="219" width="5" height="3" fill="#000"/>
<rect x="1304" y="220" width="3" height="1" fill="#fff"/>
<rect x="1313" y="219" width="1" height="25" fill="#000"/>
<rect x="1311" y="219" width="5" height="2" fill="#000"/>
<rect x="1321" y="219" width="1" height="10" fill="#000"/>
<rect x="1319" y="219" width="5" height="8" fill="#000"/>
</g>
<g shape-rendering="crispEdges">
<rect x="1" y="589" width="1" height="150" fill="#c0c0c0"/>
<rect x="9" y="592" width="1" height="147" fill="#c0c0c0"/>
<rect x="17" y="597" width="1" height="142" fill="#c0c0c0"/>
<rect x="25" y="604" width="1" height="135" fill="#c0c0c0"/>
<rect x="33" y="608" width="1" height="131" fill="#c0c0c0"/>
<rect x="41" y="612" width="1" height="127" fill="#c0c0c0"/>
<rect x="49" y="616" width="1" height="123" fill="#c0c0c0"/>
<rect x="57" y="617" width="1" height="122" fill="#c0c0c0"/>
<rect x="65" y="624" width="1" height="115" fill="#c0c0c0"/>
<rect x="73" y="628" width="1" height="111" fill="#c0c0c0"/>
<rect x="81" y="628" width="1" height="111" fill="#c0c0c0"/>
<rect x="89" y="624" width="1" height="115" fill="#c0c0c0"/>
<rect x="97" y="624" width="1" height="115" fill="#c0c0c0"/>
<rect x="105" y="627" width="1" height="112" fill="#c0c0c0"/>
<rect x="113" y="630" width="1" height="109" fill="#c0c0c0"/>
<rect x="121" y="632" width="1" height="107" fill="#c0c0c0"/>
<rect x="129" y="640" width="1" height="99" fill="#c0c0c0"/>
<rect x="137" y="648" width="1" height="91" fill="#c0c0c0"/>
<rect x="145" y="654" width="1" height="85" fill="#c0c0c0"/>
<rect x="153" y="666" width="1" height="73" fill="#c0c0c0"/>
<rect x="161" y="677" width="1" height="62" fill="#c0c0c0"/>
<rect x="169" y="693" width="1" height="46" fill="#c0c0c0"/>
<rect x="177" y="703" width="1" height="36" fill="#c0c0c0"/>
<rect x="185" y="710" width="1" height="29" fill="#c0c0c0"/>
<rect x="193" y="712" width="1" height="27" fill="#c0c0c0"/>
<rect x="201" y="710" width="1" height="29" fill="#c0c0c0"/>
<rect x="209" y="709" width="1" height="30" fill="#c0c0c0"/>
<rect x="217" y="709" width="1" height="30" fill="#c0c0c0"/>
<rect x="225" y="710" width="1" height="29" fill="#c0c0c0"/>
<rect x="233" y="713" width="1" height="26" fill="#c0c0c0"/>
<rect x="241" y="724" width="1" height="15" fill="#c0c0c0"/>
<rect x="249" y="729" width="1" height="10" fill="#c0c0c0"/>
<rect x="257" y="734" width="1" height="5" fill="#c0c0c0"/>
<rect x="265" y="737" width="1" height="2" fill="#c0c0c0"/>
<rect x="273" y="738" width="1" height="1" fill="#c0c0c0"/>
<rect x="281" y="738" width="1" height="5" fill="#c0c0c0"/>
<rect x="289" y="738" width="1" height="6" fill="#c0c0c0"/>
<rect x="297" y="738" width="1" height="7" fill="#c0c0c0"/>
<rect x="305" y="738" width="1" height="8" fill="#c0c0c0"/>
<rect x="313" y="738" width="1" height="10" fill="#c0c0c0"/>
<rect x="321" y="738" width="1" height="6" fill="#c0c0c0"/>
<rect x="329" y="738" width="1" height="5" fill="#c0c0c0"/>
<rect x="337" y="738" width="1" height="1" fill="#c0c0c0"/>
<rect x="345" y="736" width="1" height="3" fill="#c0c0c0"/>
<rect x="353" y="733" width="1" height="6" fill="#c0c0c0"/>
<rect x="361" y="731" width="1" height="8" fill="#c0c0c0"/>
<rect x="369" y="732" width="1" height="7" fill="#c0c0c0"/>
<rect x="377" y="731" width="1" height="8" fill="#c0c0c0"/>
<rect x="385" y="726" width="1" height="13" fill="#c0c0c0"/>
<rect x="393" y="727" width="1" height="12" fill="#c0c0c0"/>
<rect x="401" y="727" width="1" height="12" fill="#c0c0c0"/>
<rect x="409" y="727" width="1" height="12" fill="#c0c0c0"/>
<rect x="417" y="725" width="1" height="14" fill="#c0c0c0"/>
<rect x="425" y="722" width="1" height="17" fill="#c0c0c0"/>
<rect x="433" y="723" width="1" height="16" fill="#c0c0c0"/>
<rect x="441" y="721" width="1" height="18" fill="#c0c0c0"/>
<rect x="449" y="720" width="1" height="19" fill="#c0c0c0"/>
<rect x="457" y="719" width="1" height="20" fill="#c0c0c0"/>
<rect x="465" y="718" width="1" height="21" fill="#c0c0c0"/>
<rect x="473" y="720" width="1" height="19" fill="#c0c0c0"/>
<rect x="481" y="725" width="1" height="14" fill="#c0c0c0"/>
<rect x="489" y="729" width="1" height="10" fill="#c0c0c0"/>
<rect x="497" y="733" width="1" height="6" fill="#c0c0c0"/>
<rect x="505" y="735" width="1" height="4" fill="#c0c0c0"/>
<rect x="513" y="735" width="1" height="4" fill="#c0c0c0"/>
<rect x="521" y="737" width="1" height="2" fill="#c0c0c0"/>
<rect x="529" y="737" width="1" height="2" fill="#c0c0c0"/>
<rect x="537" y="738" width="1" height="1" fill="#c0c0c0"/>
<rect x="545" y="738" width="1" height="1" fill="#c0c0c0"/>
<rect x="553" y="738" width="1" height="1" fill="#c0c0c0"/>
<rect x="561" y="737" width="1" height="2" fill="#c0c0c0"/>
<rect x="569" y="737" width="1" height="2" fill="#c0c0c0"/>
<rect x="577" y="737" width="1" height="2" fill="#c0c0c0"/>
<rect x="585" y="738" width="1" height="1" fill="#c0c0c0"/>
<rect x="593" y="737" width="1" height="2" fill="#c0c0c0"/>
<rect x="601" y="737" width="1" height="2" fill="#c0c0c0"/>
<rect x="609" y="735" width="1" height="4" fill="#c0c0c0"/>
<rect x="617" y="731" width="1" height="8" fill="#c0c0c0"/>
<rect x="625" y="729" width="1" height="10" fill="#c0c0c0"/>
<rect x="633" y="725" width="1" height="14" fill="#c0c0c0"/>
<rect x="641" y="724" width="1" height="15" fill="#c0c0c0"/>
<rect x="649" y="724" width="1" height="15" fill="#c0c0c0"/>
<rect x="657" y="724" width="1" height="15" fill="#c0c0c0"/>
<rect x="665" y="725" width="1" height="14" fill="#c0c0c0"/>
<rect x="673" y="726" width="1" height="13" fill="#c0c0c0"/>
<rect x="681" y="730" width="1" height="9" fill="#c0c0c0"/>
<rect x="689" y="734" width="1" height="5" fill="#c0c0c0"/>
<rect x="697" y="738" width="1" height="2" fill="#c0c0c0"/>
<rect x="705" y="738" width="1" height="3" fill="#c0c0c0"/>
<rect x="713" y="738" width="1" height="2" fill="#c0c0c0"/>
<rect x="721" y="738" width="1" height="1" fill="#c0c0c0"/>
<rect x="729" y="738" width="1" height="2" fill="#c0c0c0"/>
<rect x="737" y="738" width="1" height="2" fill="#c0c0c0"/>
<rect x="745" y="738" width="1" height="4" fill="#c0c0c0"/>
<rect x="753" y="738" width="1" height="4" fill="#c0c0c0"/>
<rect x="761" y="738" width="1" height="4" fill="#c0c0c0"/>
<rect x="769" y="738" width="1" height="8" fill="#c0c0c0"/>
<rect x="777" y="738" width="1" height="12" fill="#c0c0c0"/>
<rect x="785" y="738" width="1" height="14" fill="#c0c0c0"/>
<rect x="793" y="738" width="1" height="17" fill="#c0c0c0"/>
<rect x="801" y="738" width="1" height="19" fill="#c0c0c0"/>
<rect x="809" y="738" width="1" height="18" fill="#c0c0c0"/>
<rect x="817" y="738" width="1" height="10" fill="#c0c0c0"/>
<rect x="825" y="738" width="1" height="7" fill="#c0c0c0"/>
<rect x="833" y="738" width="1" height="4" fill="#c0c0c0"/>
<rect x="841" y="738" width="1" height="1" fill="#c0c0c0"/>
<rect x="849" y="736" width="1" height="3" fill="#c0c0c0"/>
<rect x="857" y="736" width="1" height="3" fill="#c0c0c0"/>
<rect x="865" y="736" width="1" height="3" fill="#c0c0c0"/>
<rect x="873" y="736" width="1" height="3" fill="#c0c0c0"/>
<rect x="881" y="737" width="1" height="2" fill="#c0c0c0"/>
<rect x="889" y="737" width="1" height="2" fill="#c0c0c0"/>
<rect x="897" y="736" width="1" height="3" fill="#c0c0c0"/>
<rect x="905" y="738" width="1" height="1" fill="#c0c0c0"/>
<rect x="913" y="738" width="1" height="5" fill="#c0c0c0"/>
<rect x="921" y="738" width="1" height="8" fill="#c0c0c0"/>
<rect x="929" y="738" width="1" height="8" fill="#c0c0c0"/>
<rect x="937" y="738" width="1" height="11" fill="#c0c0c0"/>
<rect x="945" y="738" width="1" height="12" fill="#c0c0c0"/>
<rect x="953" y="738" width="1" height="14" fill="#c0c0c0"/>
<rect x="961" y="738" width="1" height="15" fill="#c0c0c0"/>
<rect x="969" y="738" width="1" height="16" fill="#c0c0c0"/>
<rect x="977" y="738" width="1" height="14" fill="#c0c0c0"/>
<rect x="985" y="738" width="1" height="12" fill="#c0c0c0"/>
<rect x="993" y="738" width="1" height="11" fill="#c0c0c0"/>
<rect x="1001" y="738" width="1" height="9" fill="#c0c0c0"/>
<rect x="1009" y="738" width="1" height="3" fill="#c0c0c0"/>
<rect x="1017" y="738" width="1" height="1" fill="#c0c0c0"/>
<rect x="1025" y="732" width="1" height="7" fill="#c0c0c0"/>
<rect x="1033" y="726" width="1" height="13" fill="#c0c0c0"/>
<rect x="1041" y="719" width="1" height="20" fill="#c0c0c0"/>
<rect x="1049" y="712" width="1" height="27" fill="#c0c0c0"/>
<rect x="1057" y="711" width="1" height="28" fill="#c0c0c0"/>
<rect x="1065" y="710" width="1" height="29" fill="#c0c0c0"/>
<rect x="1073" y="710" width="1" height="29" fill="#c0c0c0"/>
<rect x="1081" y="711" width="1" height="28" fill="#c0c0c0"/>
<rect x="1089" y="711" width="1" height="28" fill="#c0c0c0"/>
<rect x="1097" y="714" width="1" height="25" fill="#c0c0c0"/>
<rect x="1105" y="717" width="1" height="22" fill="#c0c0c0"/>
<rect x="1113" y="723" width="1" height="16" fill="#c0c0c0"/>
<rect x="1121" y="726" width="1" height="13" fill="#c0c0c0"/>
<rect x="1129" y="731" width="1" height="8" fill="#c0c0c0"/>
<rect x="1137" y="735" width="1" height="4" fill="#c0c0c0"/>
<rect x="1145" y="738" width="1" height="1" fill="#c0c0c0"/>
<rect x="1153" y="738" width="1" height="1" fill="#c0c0c0"/>
<rect x="1161" y="738" width="1" height="1" fill="#c0c0c0"/>
<rect x="1169" y="738" width="1" height="1" fill="#c0c0c0"/>
<rect x="1177" y="738" width="1" height="1" fill="#c0c0c0"/>
<rect x="1185" y="738" width="1" height="1" fill="#c0c0c0"/>
<rect x="1193" y="734" width="1" height="5" fill="#c0c0c0"/>
<rect x="1201" y="735" width="1" height="4" fill="#c0c0c0"/>
<rect x="1209" y="737" width="1" height="2" fill="#c0c0c0"/>
<rect x="1217" y="738" width="1" height="1" fill="#c0c0c0"/>
<rect x="1225" y="738" width="1" height="1" fill="#c0c0c0"/>
<rect x="1233" y="738" width="1" height="1" fill="#c0c0c0"/>
<rect x="1241" y="738" width="1" height="4" fill="#c0c0c0"/>
<rect x="1249" y="738" width="1" height="12" fill="#c0c0c0"/>
<rect x="1257" y="738" width="1" height="18" fill="#c0c0c0"/>
<rect x="1265" y="738" width="1" height="19" fill="#c0c0c0"/>
<rect x="1273" y="738" width="1" height="20" fill="#c0c0c0"/>
<rect x="1281" y="738" width="1" height="17" fill="#c0c0c0"/>
<rect x="1289" y="738" width="1" height="12" fill="#c0c0c0"/>
<rect x="1297" y="738" width="1" height="7" fill="#c0c0c0"/>
<rect x="1305" y="738" width="1" height="1" fill="#c0c0c0"/>
<rect x="1313" y="735" width="1" height="4" fill="#c0c0c0"/>
<rect x="1321" y="732" width="1" height="7" fill="#c0c0c0"/>
<path d="M1 578h1v1h-1zM2 578h1v1h-1zM6 579h1v1h-1zM7 579h1v1h-1zM8 579h1v1h-1zM12 580h1v1h-1zM13 580h1v1h-1zM14 580h1v1h-1zM18 582h1v1h-1zM19 582h1v1h-1zM20 583h1v1h-1zM24 585h1v1h-1zM25 585h1v1h-1zM26 586h1v1h-1zM30 588h1v1h-1zM31 588h1v1h-1zM32 589h1v1h-1zM36 591h1v1h-1zM37 591h1v1h-1zM38 592h1v1h-1zM42 594h1v1h-1zM43 594h1v1h-1zM44 595h1v1h-1zM48 597h1v1h-1zM49 597h1v1h-1zM50 598h1v1h-1zM54 600h1v1h-1zM55 600h1v1h-1zM56 601h1v1h-1zM60 603h1v1h-1zM61 604h1v1h-1zM62 604h1v1h-1zM66 607h1v1h-1zM67 607h1v1h-1zM68 608h1v1h-1zM72 610h1v1h-1zM73 610h1v1h-1zM74 611h1v1h-1zM78 612h1v1h-1zM79 613h1v1h-1zM80 613h1v1h-1zM84 615h1v1h-1zM85 616h1v1h-1zM86 616h1v1h-1zM90 618h1v1h-1zM91 618h1v1h-1zM92 618h1v1h-1zM96 620h1v1h-1zM97 620h1v1h-1zM98 620h1v1h-1zM102 621h1v1h-1zM103 621h1v1h-1zM104 621h1v1h-1zM108 622h1v1h-1zM109 622h1v1h-1zM110 622h1v1h-1zM114 623h1v1h-1zM115 623h1v1h-1zM116 624h1v1h-1zM120 625h1v1h-1zM121 625h1v1h-1zM122 626h1v1h-1zM126 627h1v1h-1zM127 628h1v1h-1zM128 628h1v1h-1zM132 629h1v1h-1zM133 629h1v1h-1zM134 630h1v1h-1zM138 630h1v1h-1zM139 631h1v1h-1zM140 631h1v1h-1zM144 632h1v1h-1zM145 632h1v1h-1zM146 633h1v1h-1zM150 635h1v1h-1zM151 635h1v1h-1zM152 636h1v1h-1zM156 639h1v1h-1zM157 640h1v1h-1zM158 641h1v1h-1zM162 644h1v1h-1zM163 645h1v1h-1zM164 646h1v1h-1zM168 650h1v1h-1zM169 651h1v1h-1zM170 652h1v1h-1zM174 656h1v1h-1zM175 657h1v1h-1zM176 658h1v1h-1zM180 662h1v2h-1zM181 664h1v1h-1zM182 665h1v1h-1zM186 670h1v1h-1zM187 671h1v1h-1zM188 672h1v1h-1zM192 676h1v1h-1zM193 677h1v1h-1zM194 678h1v1h-1zM198 682h1v1h-1zM199 683h1v1h-1zM200 684h1v1h-1zM204 688h1v1h-1zM205 688h1v1h-1zM206 689h1v1h-1zM210 693h1v1h-1zM211 694h1v1h-1zM212 695h1v1h-1zM216 698h1v1h-1zM217 698h1v1h-1zM218 699h1v1h-1zM222 702h1v1h-1zM223 703h1v1h-1zM224 703h1v1h-1zM228 705h1v1h-1zM229 706h1v1h-1zM230 706h1v1h-1zM234 708h1v1h-1zM235 708h1v1h-1zM236 708h1v1h-1zM240 710h1v1h-1zM241 710h1v1h-1zM242 711h1v1h-1zM246 712h1v1h-1zM247 713h1v1h-1zM248 713h1v1h-1zM252 714h1v1h-1zM253 715h1v1h-1zM254 715h1v1h-1zM258 716h1v1h-1zM259 716h1v1h-1zM260 716h1v1h-1zM264 718h1v1h-1zM265 718h1v1h-1zM266 719h1v1h-1zM270 720h1v1h-1zM271 721h1v1h-1zM272 721h1v1h-1zM276 723h1v1h-1zM277 724h1v1h-1zM278 724h1v1h-1zM282 727h1v1h-1zM283 727h1v1h-1zM284 728h1v1h-1zM288 730h1v1h-1zM289 731h1v1h-1zM290 731h1v1h-1zM294 733h1v1h-1zM295 734h1v1h-1zM296 734h1v1h-1zM300 736h1v1h-1zM301 737h1v1h-1zM302 737h1v1h-1zM306 739h1v1h-1zM307 739h1v1h-1zM308 739h1v1h-1zM312 741h1v1h-1zM313 741h1v1h-1zM314 741h1v1h-1zM318 742h1v1h-1zM319 742h1v1h-1zM320 742h1v1h-1zM324 743h1v1h-1zM325 744h1v1h-1zM326 744h1v1h-1zM330 744h1v1h-1zM331 744h1v1h-1zM332 744h1v1h-1zM336 744h1v1h-1zM337 744h1v1h-1zM338 744h1v1h-1zM342 744h1v1h-1zM343 744h1v1h-1zM344 744h1v1h-1zM348 744h1v1h-1zM349 744h1v1h-1zM350 744h1v1h-1zM354 743h1v1h-1zM355 742h1v1h-1zM356 742h1v1h-1zM360 741h1v1h-1zM361 741h1v1h-1zM362 741h1v1h-1zM366 740h1v1h-1zM367 740h1v1h-1zM368 739h1v1h-1zM372 739h1v1h-1zM373 738h1v1h-1zM374 738h1v1h-1zM378 737h1v1h-1zM379 737h1v1h-1zM380 737h1v1h-1zM384 736h1v1h-1zM385 735h1v1h-1zM386 735h1v1h-1zM390 734h1v1h-1zM391 734h1v1h-1zM392 734h1v1h-1zM396 732h1v1h-1zM397 732h1v1h-1zM398 732h1v1h-1zM402 730h1v1h-1zM403 730h1v1h-1zM404 730h1v1h-1zM408 729h1v1h-1zM409 729h1v1h-1zM410 728h1v1h-1zM414 728h1v1h-1zM415 728h1v1h-1zM416 728h1v1h-1zM420 727h1v1h-1zM421 727h1v1h-1zM422 727h1v1h-1zM426 727h1v1h-1zM427 727h1v1h-1zM428 727h1v1h-1zM432 726h1v1h-1zM433 726h1v1h-1zM434 726h1v1h-1zM438 725h1v1h-1zM439 725h1v1h-1zM440 725h1v1h-1zM444 724h1v1h-1zM445 724h1v1h-1zM446 724h1v1h-1zM450 723h1v1h-1zM451 723h1v1h-1zM452 723h1v1h-1zM456 723h1v1h-1zM457 723h1v1h-1zM458 723h1v1h-1zM462 722h1v1h-1zM463 722h1v1h-1zM464 722h1v1h-1zM468 721h1v1h-1zM469 721h1v1h-1zM470 721h1v1h-1zM474 721h1v1h-1zM475 720h1v1h-1zM476 720h1v1h-1zM480 720h1v1h-1zM481 720h1v1h-1zM482 720h1v1h-1zM486 721h1v1h-1zM487 721h1v1h-1zM488 721h1v1h-1zM492 721h1v1h-1zM493 722h1v1h-1zM494 722h1v1h-1zM498 722h1v1h-1zM499 723h1v1h-1zM500 723h1v1h-1zM504 723h1v1h-1zM505 724h1v1h-1zM506 724h1v1h-1zM510 724h1v1h-1zM511 725h1v1h-1zM512 725h1v1h-1zM516 726h1v1h-1zM517 726h1v1h-1zM518 727h1v1h-1zM522 727h1v1h-1zM523 728h1v1h-1zM524 728h1v1h-1zM528 729h1v1h-1zM529 729h1v1h-1zM530 729h1v1h-1zM534 730h1v1h-1zM535 730h1v1h-1zM536 731h1v1h-1zM540 732h1v1h-1zM541 732h1v1h-1zM542 732h1v1h-1zM546 733h1v1h-1zM547 733h1v1h-1zM548 733h1v1h-1zM552 734h1v1h-1zM553 734h1v1h-1zM554 734h1v1h-1zM558 735h1v1h-1zM559 735h1v1h-1zM560 735h1v1h-1zM564 736h1v1h-1zM565 736h1v1h-1zM566 736h1v1h-1zM570 736h1v1h-1zM571 736h1v1h-1zM572 736h1v1h-1zM576 736h1v1h-1zM577 736h1v1h-1zM578 736h1v1h-1zM582 736h1v1h-1zM583 736h1v1h-1zM584 736h1v1h-1zM588 736h1v1h-1zM589 736h1v1h-1zM590 736h1v1h-1zM594 736h1v1h-1zM595 736h1v1h-1zM596 736h1v1h-1zM600 736h1v1h-1zM601 736h1v1h-1zM602 736h1v1h-1zM606 736h1v1h-1zM607 736h1v1h-1zM608 736h1v1h-1zM612 736h1v1h-1zM613 736h1v1h-1zM614 736h1v1h-1zM618 735h1v1h-1zM619 735h1v1h-1zM620 735h1v1h-1zM624 734h1v1h-1zM625 734h1v1h-1zM626 734h1v1h-1zM630 734h1v1h-1zM631 734h1v1h-1zM632 733h1v1h-1zM636 733h1v1h-1zM637 733h1v1h-1zM638 732h1v1h-1zM642 731h1v1h-1zM643 731h1v1h-1zM644 731h1v1h-1zM648 730h1v1h-1zM649 730h1v1h-1zM650 730h1v1h-1zM654 729h1v1h-1zM655 729h1v1h-1zM656 729h1v1h-1zM660 728h1v1h-1zM661 728h1v1h-1zM662 728h1v1h-1zM666 727h1v1h-1zM667 727h1v1h-1zM668 727h1v1h-1zM672 727h1v1h-1zM673 726h1v1h-1zM674 726h1v1h-1zM678 726h1v1h-1zM679 726h1v1h-1zM680 726h1v1h-1zM684 726h1v1h-1zM685 726h1v1h-1zM686 726h1v1h-1zM690 726h1v1h-1zM691 726h1v1h-1zM692 727h1v1h-1zM696 727h1v1h-1zM697 727h1v1h-1zM698 727h1v1h-1zM702 728h1v1h-1zM703 728h1v1h-1zM704 728h1v1h-1zM708 730h1v1h-1zM709 730h1v1h-1zM710 730h1v1h-1zM714 731h1v1h-1zM715 732h1v1h-1zM716 732h1v1h-1zM720 733h1v1h-1zM721 733h1v1h-1zM722 733h1v1h-1zM726 734h1v1h-1zM727 734h1v1h-1zM728 734h1v1h-1zM732 735h1v1h-1zM733 735h1v1h-1zM734 736h1v1h-1zM738 737h1v1h-1zM739 737h1v1h-1zM740 737h1v1h-1zM744 738h1v1h-1zM745 739h1v1h-1zM746 739h1v1h-1zM750 739h1v1h-1zM751 740h1v1h-1zM752 740h1v1h-1zM756 740h1v1h-1zM757 740h1v1h-1zM758 740h1v1h-1zM762 741h1v1h-1zM763 741h1v1h-1zM764 741h1v1h-1zM768 741h1v1h-1zM769 741h1v1h-1zM770 741h1v1h-1zM774 742h1v1h-1zM775 742h1v1h-1zM776 743h1v1h-1zM780 743h1v1h-1zM781 744h1v1h-1zM782 744h1v1h-1zM786 745h1v1h-1zM787 745h1v1h-1zM788 745h1v1h-1zM792 745h1v1h-1zM793 746h1v1h-1zM794 746h1v1h-1zM798 746h1v1h-1zM799 746h1v1h-1zM800 747h1v1h-1zM804 748h1v1h-1zM805 748h1v1h-1zM806 748h1v1h-1zM810 749h1v1h-1zM811 749h1v1h-1zM812 749h1v1h-1zM816 750h1v1h-1zM817 750h1v1h-1zM818 750h1v1h-1zM822 750h1v1h-1zM823 750h1v1h-1zM824 750h1v1h-1zM828 750h1v1h-1zM829 750h1v1h-1zM830 750h1v1h-1zM834 750h1v1h-1zM835 750h1v1h-1zM836 750h1v1h-1zM840 749h1v1h-1zM841 749h1v1h-1zM842 749h1v1h-1zM846 748h1v1h-1zM847 748h1v1h-1zM848 748h1v1h-1zM852 747h1v1h-1zM853 747h1v1h-1zM854 747h1v1h-1zM858 746h1v1h-1zM859 745h1v1h-1zM860 745h1v1h-1zM864 743h1v1h-1zM865 743h1v1h-1zM866 743h1v1h-1zM870 741h1v1h-1zM871 741h1v1h-1zM872 741h1v1h-1zM876 740h1v1h-1zM877 739h1v1h-1zM878 739h1v1h-1zM882 738h1v1h-1zM883 738h1v1h-1zM884 738h1v1h-1zM888 737h1v1h-1zM889 737h1v1h-1zM890 737h1v1h-1zM894 736h1v1h-1zM895 736h1v1h-1zM896 736h1v1h-1zM900 736h1v1h-1zM901 736h1v1h-1zM902 736h1v1h-1zM906 736h1v1h-1zM907 736h1v1h-1zM908 736h1v1h-1zM912 736h1v1h-1zM913 736h1v1h-1zM914 737h1v1h-1zM918 737h1v1h-1zM919 737h1v1h-1zM920 737h1v1h-1zM924 738h1v1h-1zM925 738h1v1h-1zM926 738h1v1h-1zM930 739h1v1h-1zM931 739h1v1h-1zM932 739h1v1h-1zM936 740h1v1h-1zM937 740h1v1h-1zM938 740h1v1h-1zM942 741h1v1h-1zM943 741h1v1h-1zM944 741h1v1h-1zM948 743h1v1h-1zM949 743h1v1h-1zM950 743h1v1h-1zM954 745h1v1h-1zM955 745h1v1h-1zM956 745h1v1h-1zM960 746h1v1h-1zM961 746h1v1h-1zM962 747h1v1h-1zM966 747h1v1h-1zM967 748h1v1h-1zM968 748h1v1h-1zM972 748h1v1h-1zM973 748h1v1h-1zM974 749h1v1h-1zM978 749h1v1h-1zM979 749h1v1h-1zM980 749h1v1h-1zM984 750h1v1h-1zM985 750h1v1h-1zM986 750h1v1h-1zM990 751h1v1h-1zM991 751h1v1h-1zM992 751h1v1h-1zM996 751h1v1h-1zM997 751h1v1h-1zM998 751h1v1h-1zM1002 751h1v1h-1zM1003 751h1v1h-1zM1004 751h1v1h-1zM1008 750h1v1h-1zM1009 750h1v1h-1zM1010 750h1v1h-1zM1014 749h1v1h-1zM1015 748h1v1h-1zM1016 748h1v1h-1zM1020 747h1v1h-1zM1021 747h1v1h-1zM1022 747h1v1h-1zM1026 746h1v1h-1zM1027 746h1v1h-1zM1028 745h1v1h-1zM1032 743h1v1h-1zM1033 743h1v1h-1zM1034 742h1v1h-1zM1038 740h1v1h-1zM1039 740h1v1h-1zM1040 739h1v1h-1zM1044 737h1v1h-1zM1045 736h1v1h-1zM1046 735h1v1h-1zM1050 733h1v1h-1zM1051 733h1v1h-1zM1052 732h1v1h-1zM1056 730h1v1h-1zM1057 730h1v1h-1zM1058 729h1v1h-1zM1062 727h1v1h-1zM1063 726h1v1h-1zM1064 726h1v1h-1zM1068 724h1v1h-1zM1069 723h1v1h-1zM1070 723h1v1h-1zM1074 721h1v1h-1zM1075 720h1v1h-1zM1076 720h1v1h-1zM1080 718h1v1h-1zM1081 718h1v1h-1zM1082 717h1v1h-1zM1086 716h1v1h-1zM1087 716h1v1h-1zM1088 716h1v1h-1zM1092 715h1v1h-1zM1093 714h1v1h-1zM1094 714h1v1h-1zM1098 713h1v1h-1zM1099 713h1v1h-1zM1100 713h1v1h-1zM1104 712h1v1h-1zM1105 712h1v1h-1zM1106 712h1v1h-1zM1110 712h1v1h-1zM1111 712h1v1h-1zM1112 712h1v1h-1zM1116 713h1v1h-1zM1117 713h1v1h-1zM1118 713h1v1h-1zM1122 714h1v1h-1zM1123 714h1v1h-1zM1124 714h1v1h-1zM1128 716h1v1h-1zM1129 716h1v1h-1zM1130 716h1v1h-1zM1134 718h1v1h-1zM1135 718h1v1h-1zM1136 719h1v1h-1zM1140 720h1v1h-1zM1141 721h1v1h-1zM1142 721h1v1h-1zM1146 722h1v1h-1zM1147 723h1v1h-1zM1148 723h1v1h-1zM1152 724h1v1h-1zM1153 725h1v1h-1zM1154 725h1v1h-1zM1158 727h1v1h-1zM1159 727h1v1h-1zM1160 727h1v1h-1zM1164 729h1v1h-1zM1165 729h1v1h-1zM1166 730h1v1h-1zM1170 731h1v1h-1zM1171 731h1v1h-1zM1172 732h1v1h-1zM1176 733h1v1h-1zM1177 733h1v1h-1zM1178 734h1v1h-1zM1182 735h1v1h-1zM1183 735h1v1h-1zM1184 735h1v1h-1zM1188 735h1v1h-1zM1189 735h1v1h-1zM1190 735h1v1h-1zM1194 736h1v1h-1zM1195 736h1v1h-1zM1196 736h1v1h-1zM1200 737h1v1h-1zM1201 737h1v1h-1zM1202 737h1v1h-1zM1206 738h1v1h-1zM1207 738h1v1h-1zM1208 738h1v1h-1zM1212 738h1v1h-1zM1213 738h1v1h-1zM1214 738h1v1h-1zM1218 738h1v1h-1zM1219 737h1v1h-1zM1220 737h1v1h-1zM1224 737h1v1h-1zM1225 737h1v1h-1zM1226 737h1v1h-1zM1230 736h1v1h-1zM1231 736h1v1h-1zM1232 736h1v1h-1zM1236 737h1v1h-1zM1237 737h1v1h-1zM1238 737h1v1h-1zM1242 738h1v1h-1zM1243 738h1v1h-1zM1244 738h1v1h-1zM1248 739h1v1h-1zM1249 739h1v1h-1zM1250 739h1v1h-1zM1254 739h1v1h-1zM1255 740h1v1h-1zM1256 740h1v1h-1zM1260 741h1v1h-1zM1261 741h1v1h-1zM1262 741h1v1h-1zM1266 743h1v1h-1zM1267 743h1v1h-1zM1268 744h1v1h-1zM1272 746h1v1h-1zM1273 746h1v1h-1zM1274 747h1v1h-1zM1278 748h1v1h-1zM1279 748h1v1h-1zM1280 748h1v1h-1zM1284 749h1v1h-1zM1285 749h1v1h-1zM1286 749h1v1h-1zM1290 750h1v1h-1zM1291 750h1v1h-1zM1292 750h1v1h-1zM1296 751h1v1h-1zM1297 751h1v1h-1zM1298 751h1v1h-1zM1302 751h1v1h-1zM1303 751h1v1h-1zM1304 751h1v1h-1zM1308 751h1v1h-1zM1309 751h1v1h-1zM1310 750h1v1h-1zM1314 750h1v1h-1zM1315 749h1v1h-1zM1316 749h1v1h-1zM1320 748h1v1h-1zM1321 748h1v1h-1zM1322 748h1v1h-1z" fill="#ff0000"/>
</g>
<g shape-rendering="crispEdges">
<line x1="2" y1="803.5" x2="1629" y2="803.5" stroke="#c0c0c0" stroke-width="1" stroke-dasharray="3,3"/>
<line x1="2" y1="850.5" x2="1629" y2="850.5" stroke="#c0c0c0" stroke-width="1" stroke-dasharray="3,3"/>
<line x1="2" y1="906.5" x2="1629" y2="906.5" stroke="#c0c0c0" stroke-width="1" stroke-dasharray="3,3"/>
<polyline points="1.5,825.8 9.5,821.8 17.5,824.1 25.5,828.5 33.5,824.5 41.5,823.5 49.5,824.5 57.5,819.1 65.5,830.5 73.5,827.1 81.5,822.5 89.5,817.1 97.5,821.1 105.5,824.5 113.5,824.5 121.5,822.1 129.5,834.2 137.5,835.5 145.5,833.5 153.5,846.9 161.5,850.5 169.5,860.2 177.5,855.9 185.5,851.9 193.5,845.2 201.5,839.2 209.5,839.2 217.5,841.2 225.5,843.2 233.5,845.2 241.5,863.6 249.5,855.2 257.5,857.5 265.5,855.2 273.5,856.5 281.5,861.6 289.5,853.5 297.5,856.5 305.5,854.5 313.5,856.5 321.5,848.5 329.5,853.5 337.5,839.2 345.5,841.5 353.5,841.5 361.5,844.5 369.5,848.5 377.5,844.2 385.5,834.5 393.5,848.5 401.5,845.2 409.5,847.5 417.5,839.2 425.5,838.2 433.5,845.5 441.5,839.2 449.5,840.5 457.5,838.5 465.5,836.2 473.5,845.9 481.5,856.2 489.5,856.2 497.5,859.9 505.5,851.2 513.5,851.2 521.5,852.5 529.5,849.2 537.5,850.5 545.5,851.2 553.5,851.2 561.5,846.2 569.5,848.2 577.5,844.5 585.5,856.2 593.5,847.9 601.5,844.5 609.5,841.5 617.5,834.2 625.5,836.5 633.5,827.5 641.5,834.5 649.5,840.2 657.5,843.5 665.5,841.5 673.5,846.2 681.5,859.2 689.5,860.6 697.5,874.3 705.5,854.2 713.5,849.5 721.5,850.5 729.5,852.2 737.5,854.5 745.5,857.9 753.5,854.2 761.5,854.2 769.5,868.2 777.5,871.6 785.5,863.6 793.5,870.2 801.5,868.2 809.5,858.6 817.5,836.5 825.5,846.2 833.5,846.2 841.5,841.8 849.5,840.5 857.5,846.2 865.5,849.2 873.5,849.2 881.5,851.5 889.5,850.2 897.5,845.5 905.5,861.2 913.5,868.2 921.5,864.2 929.5,856.5 937.5,864.2 945.5,861.2 953.5,865.2 961.5,862.6 969.5,864.2 977.5,854.5 985.5,851.5 993.5,855.2 1001.5,846.2 1009.5,834.5 1017.5,831.2 1025.5,831.2 1033.5,825.1 1041.5,817.8 1049.5,814.4 1057.5,833.5 1065.5,833.5 1073.5,834.5 1081.5,837.5 1089.5,833.5 1097.5,838.5 1105.5,852.1 1113.5,858.2 1121.5,854.6 1129.5,861.4 1137.5,860.3 1145.5,865.6 1153.5,851.4 1161.5,848.6 1169.5,853.2 1177.5,848.6 1185.5,845.4 1193.5,835.4 1201.5,853.2 1209.5,854.6 1217.5,851.1 1225.5,851.1 1233.5,852.5 1241.5,869.6 1249.5,877.4 1257.5,877.4 1265.5,863.5 1273.5,864.6 1281.5,851.4 1289.5,848.6 1297.5,836.5 1305.5,835.4 1313.5,835.4 1321.5,837.2" fill="none" stroke="#1e90ff" stroke-width="1"/>
</g>
<g shape-rendering="crispEdges">
<rect x="0" y="30" width="1630" height="1" fill="#000"/>
<rect x="0" y="30" width="1" height="901" fill="#000"/>
<rect x="1629" y="30" width="1" height="901" fill="#000"/>
<rect x="0" y="565" width="1630" height="1" fill="#000"/>
<rect x="0" y="566" width="1630" height="1" fill="#fff"/>
<rect x="0" y="567" width="1630" height="1" fill="#000"/>
<rect x="0" y="768" width="1630" height="1" fill="#000"/>
<rect x="0" y="769" width="1630" height="1" fill="#fff"/>
<rect x="0" y="770" width="1630" height="1" fill="#000"/>
<rect x="0" y="930" width="1630" height="1" fill="#000"/>
</g>
<g>
<rect x="1210" y="250" width="138" height="9" fill="#00ff00" shape-rendering="crispEdges"/>
<rect x="1476.5" y="238.5" width="99" height="32" fill="#fff" stroke="#ff0000" stroke-width="1"/>
<text x="1526.4" y="265" font-size="29.6" fill="#ff0000" text-anchor="middle" font-weight="normal" textLength="96.6" lengthAdjust="spacingAndGlyphs">140.399</text>
<rect x="1466" y="253" width="8" height="1" fill="#ff0000"/>
<rect x="1473.5" y="252.5" width="2" height="3" fill="#fff" stroke="#ff0000" stroke-width="1"/>
<text x="1349" y="312.3" font-size="32.8" fill="#0a5c0a" stroke="#0a5c0a" stroke-width="0.7" text-anchor="start" font-family="'Liberation Sans','Noto Sans CJK SC',sans-serif" textLength="164" lengthAdjust="spacingAndGlyphs">多空转折点</text>
<text x="1348.4" y="311.8" font-size="32.8" fill="#00ff00" stroke="#00ff00" stroke-width="0.7" text-anchor="start" font-family="'Liberation Sans','Noto Sans CJK SC',sans-serif" textLength="164" lengthAdjust="spacingAndGlyphs">多空转折点</text>
</g>
<g>
<rect x="1630" y="34" width="2" height="1" fill="#000"/>
<text transform="translate(1635.4,37.9) scale(0.9,1)" font-size="9.9" fill="#000" text-anchor="start" font-weight="normal" stroke="#000" stroke-width="0.22">141.695</text>
<rect x="1630" y="67" width="2" height="1" fill="#000"/>
<text transform="translate(1635.4,71.0) scale(0.9,1)" font-size="9.9" fill="#000" text-anchor="start" font-weight="normal" stroke="#000" stroke-width="0.22">141.500</text>
<rect x="1630" y="100" width="2" height="1" fill="#000"/>
<text transform="translate(1635.4,104.0) scale(0.9,1)" font-size="9.9" fill="#000" text-anchor="start" font-weight="normal" stroke="#000" stroke-width="0.22">141.305</text>
<rect x="1630" y="133" width="2" height="1" fill="#000"/>
<text transform="translate(1635.4,137.0) scale(0.9,1)" font-size="9.9" fill="#000" text-anchor="start" font-weight="normal" stroke="#000" stroke-width="0.22">141.110</text>
<rect x="1630" y="166" width="2" height="1" fill="#000"/>
<text transform="translate(1635.4,170.1) scale(0.9,1)" font-size="9.9" fill="#000" text-anchor="start" font-weight="normal" stroke="#000" stroke-width="0.22">140.915</text>
<rect x="1630" y="199" width="2" height="1" fill="#000"/>
<text transform="translate(1635.4,203.1) scale(0.9,1)" font-size="9.9" fill="#000" text-anchor="start" font-weight="normal" stroke="#000" stroke-width="0.22">140.725</text>
<rect x="1630" y="233" width="2" height="1" fill="#000"/>
<text transform="translate(1635.4,236.2) scale(0.9,1)" font-size="9.9" fill="#000" text-anchor="start" font-weight="normal" stroke="#000" stroke-width="0.22">140.530</text>
<rect x="1630" y="266" width="2" height="1" fill="#000"/>
<text transform="translate(1635.4,269.2) scale(0.9,1)" font-size="9.9" fill="#000" text-anchor="start" font-weight="normal" stroke="#000" stroke-width="0.22">140.335</text>
<rect x="1630" y="299" width="2" height="1" fill="#000"/>
<text transform="translate(1635.4,302.3) scale(0.9,1)" font-size="9.9" fill="#000" text-anchor="start" font-weight="normal" stroke="#000" stroke-width="0.22">140.140</text>
<rect x="1630" y="332" width="2" height="1" fill="#000"/>
<text transform="translate(1635.4,335.3) scale(0.9,1)" font-size="9.9" fill="#000" text-anchor="start" font-weight="normal" stroke="#000" stroke-width="0.22">139.945</text>
<rect x="1630" y="365" width="2" height="1" fill="#000"/>
<text transform="translate(1635.4,368.4) scale(0.9,1)" font-size="9.9" fill="#000" text-anchor="start" font-weight="normal" stroke="#000" stroke-width="0.22">139.750</text>
<rect x="1630" y="398" width="2" height="1" fill="#000"/>
<text transform="translate(1635.4,401.4) scale(0.9,1)" font-size="9.9" fill="#000" text-anchor="start" font-weight="normal" stroke="#000" stroke-width="0.22">139.555</text>
<rect x="1630" y="431" width="2" height="1" fill="#000"/>
<text transform="translate(1635.4,434.5) scale(0.9,1)" font-size="9.9" fill="#000" text-anchor="start" font-weight="normal" stroke="#000" stroke-width="0.22">139.360</text>
<rect x="1630" y="464" width="2" height="1" fill="#000"/>
<text transform="translate(1635.4,467.5) scale(0.9,1)" font-size="9.9" fill="#000" text-anchor="start" font-weight="normal" stroke="#000" stroke-width="0.22">139.170</text>
<rect x="1630" y="497" width="2" height="1" fill="#000"/>
<text transform="translate(1635.4,500.6) scale(0.9,1)" font-size="9.9" fill="#000" text-anchor="start" font-weight="normal" stroke="#000" stroke-width="0.22">138.975</text>
<rect x="1630" y="530" width="2" height="1" fill="#000"/>
<text transform="translate(1635.4,533.6) scale(0.9,1)" font-size="9.9" fill="#000" text-anchor="start" font-weight="normal" stroke="#000" stroke-width="0.22">138.780</text>
<rect x="1630" y="563" width="2" height="1" fill="#000"/>
<text transform="translate(1635.4,566.7) scale(0.9,1)" font-size="9.9" fill="#000" text-anchor="start" font-weight="normal" stroke="#000" stroke-width="0.22">138.585</text>
<rect x="1629" y="153" width="2" height="2" fill="#ff0000" shape-rendering="crispEdges"/>
<rect x="1629" y="190" width="2" height="2" fill="#ff4500" shape-rendering="crispEdges"/>
<rect x="1629" y="253" width="2" height="2" fill="#32cd32" shape-rendering="crispEdges"/>
<rect x="1629" y="283" width="2" height="2" fill="#0000ff" shape-rendering="crispEdges"/>
<rect x="1629" y="315" width="2" height="2" fill="#0000ff" shape-rendering="crispEdges"/>
<rect x="1631" y="148" width="41" height="11" fill="#ff0000"/>
<text transform="translate(1635.4,157.2) scale(0.9,1)" font-size="9.9" fill="#fff" text-anchor="start" font-weight="normal" stroke="#fff" stroke-width="0.22">140.987</text>
<rect x="1631" y="185" width="41" height="11" fill="#ff4500"/>
<text transform="translate(1635.4,194.2) scale(0.9,1)" font-size="9.9" fill="#fff" text-anchor="start" font-weight="normal" stroke="#fff" stroke-width="0.22">140.769</text>
<rect x="1631" y="221" width="41" height="11" fill="#000000"/>
<text transform="translate(1635.4,229.7) scale(0.9,1)" font-size="9.9" fill="#fff" text-anchor="start" font-weight="normal" stroke="#fff" stroke-width="0.22">140.564</text>
<rect x="1631" y="248" width="41" height="11" fill="#32cd32"/>
<text transform="translate(1635.4,257.2) scale(0.9,1)" font-size="9.9" fill="#fff" text-anchor="start" font-weight="normal" stroke="#fff" stroke-width="0.22">140.399</text>
<rect x="1631" y="278" width="41" height="11" fill="#0000ff"/>
<text transform="translate(1635.4,287.2) scale(0.9,1)" font-size="9.9" fill="#fff" text-anchor="start" font-weight="normal" stroke="#fff" stroke-width="0.22">140.222</text>
<rect x="1631" y="310" width="41" height="11" fill="#0000ff"/>
<text transform="translate(1635.4,319.2) scale(0.9,1)" font-size="9.9" fill="#fff" text-anchor="start" font-weight="normal" stroke="#fff" stroke-width="0.22">140.034</text>
<text transform="translate(1633.6,578.2) scale(0.9,1)" font-size="9.9" fill="#000" text-anchor="start" font-weight="normal" stroke="#000" stroke-width="0.22">1.4291</text>
<text transform="translate(1633.6,741.7) scale(0.9,1)" font-size="9.9" fill="#000" text-anchor="start" font-weight="normal" stroke="#000" stroke-width="0.22">0.00</text>
<text transform="translate(1633.6,765.2) scale(0.9,1)" font-size="9.9" fill="#000" text-anchor="start" font-weight="normal" stroke="#000" stroke-width="0.22">-0.2451</text>
<rect x="1630" y="738" width="2" height="1" fill="#000"/>
<text transform="translate(1633.6,780.7) scale(0.9,1)" font-size="9.9" fill="#000" text-anchor="start" font-weight="normal" stroke="#000" stroke-width="0.22">100</text>
<text transform="translate(1633.6,806.7) scale(0.9,1)" font-size="9.9" fill="#000" text-anchor="start" font-weight="normal" stroke="#000" stroke-width="0.22">80</text>
<text transform="translate(1633.6,853.7) scale(0.9,1)" font-size="9.9" fill="#000" text-anchor="start" font-weight="normal" stroke="#000" stroke-width="0.22">50</text>
<text transform="translate(1633.6,909.7) scale(0.9,1)" font-size="9.9" fill="#000" text-anchor="start" font-weight="normal" stroke="#000" stroke-width="0.22">15</text>
<text transform="translate(1633.6,926.7) scale(0.9,1)" font-size="9.9" fill="#000" text-anchor="start" font-weight="normal" stroke="#000" stroke-width="0.22">0</text>
<rect x="1" y="931" width="1" height="3" fill="#000"/>
<text transform="translate(0.7,943) scale(0.97,1)" font-size="9.7" fill="#000" text-anchor="start" font-weight="normal" stroke="#000" stroke-width="0.2">17 Oct 2019</text>
<rect x="65" y="931" width="1" height="3" fill="#000"/>
<text transform="translate(64.7,943) scale(0.97,1)" font-size="9.7" fill="#000" text-anchor="start" font-weight="normal" stroke="#000" stroke-width="0.2">20 Oct 23:00</text>
<rect x="129" y="931" width="1" height="3" fill="#000"/>
<text transform="translate(128.7,943) scale(0.97,1)" font-size="9.7" fill="#000" text-anchor="start" font-weight="normal" stroke="#000" stroke-width="0.2">22 Oct 04:00</text>
<rect x="193" y="931" width="1" height="3" fill="#000"/>
<text transform="translate(192.7,943) scale(0.97,1)" font-size="9.7" fill="#000" text-anchor="start" font-weight="normal" stroke="#000" stroke-width="0.2">23 Oct 12:00</text>
<rect x="257" y="931" width="1" height="3" fill="#000"/>
<text transform="translate(256.7,943) scale(0.97,1)" font-size="9.7" fill="#000" text-anchor="start" font-weight="normal" stroke="#000" stroke-width="0.2">24 Oct 20:00</text>
<rect x="321" y="931" width="1" height="3" fill="#000"/>
<text transform="translate(320.7,943) scale(0.97,1)" font-size="9.7" fill="#000" text-anchor="start" font-weight="normal" stroke="#000" stroke-width="0.2">28 Oct 04:00</text>
<rect x="385" y="931" width="1" height="3" fill="#000"/>
<text transform="translate(384.7,943) scale(0.97,1)" font-size="9.7" fill="#000" text-anchor="start" font-weight="normal" stroke="#000" stroke-width="0.2">29 Oct 12:00</text>
<rect x="449" y="931" width="1" height="3" fill="#000"/>
<text transform="translate(448.7,943) scale(0.97,1)" font-size="9.7" fill="#000" text-anchor="start" font-weight="normal" stroke="#000" stroke-width="0.2">30 Oct 20:00</text>
<rect x="513" y="931" width="1" height="3" fill="#000"/>
<text transform="translate(512.7,943) scale(0.97,1)" font-size="9.7" fill="#000" text-anchor="start" font-weight="normal" stroke="#000" stroke-width="0.2">1 Nov 04:00</text>
<rect x="577" y="931" width="1" height="3" fill="#000"/>
<text transform="translate(576.7,943) scale(0.97,1)" font-size="9.7" fill="#000" text-anchor="start" font-weight="normal" stroke="#000" stroke-width="0.2">4 Nov 12:00</text>
<rect x="641" y="931" width="1" height="3" fill="#000"/>
<text transform="translate(640.7,943) scale(0.97,1)" font-size="9.7" fill="#000" text-anchor="start" font-weight="normal" stroke="#000" stroke-width="0.2">5 Nov 20:00</text>
<rect x="705" y="931" width="1" height="3" fill="#000"/>
<text transform="translate(704.7,943) scale(0.97,1)" font-size="9.7" fill="#000" text-anchor="start" font-weight="normal" stroke="#000" stroke-width="0.2">7 Nov 04:00</text>
<rect x="769" y="931" width="1" height="3" fill="#000"/>
<text transform="translate(768.7,943) scale(0.97,1)" font-size="9.7" fill="#000" text-anchor="start" font-weight="normal" stroke="#000" stroke-width="0.2">8 Nov 12:00</text>
<rect x="833" y="931" width="1" height="3" fill="#000"/>
<text transform="translate(832.7,943) scale(0.97,1)" font-size="9.7" fill="#000" text-anchor="start" font-weight="normal" stroke="#000" stroke-width="0.2">11 Nov 20:00</text>
<rect x="897" y="931" width="1" height="3" fill="#000"/>
<text transform="translate(896.7,943) scale(0.97,1)" font-size="9.7" fill="#000" text-anchor="start" font-weight="normal" stroke="#000" stroke-width="0.2">13 Nov 04:00</text>
<rect x="961" y="931" width="1" height="3" fill="#000"/>
<text transform="translate(960.7,943) scale(0.97,1)" font-size="9.7" fill="#000" text-anchor="start" font-weight="normal" stroke="#000" stroke-width="0.2">14 Nov 12:00</text>
<rect x="1025" y="931" width="1" height="3" fill="#000"/>
<text transform="translate(1024.7,943) scale(0.97,1)" font-size="9.7" fill="#000" text-anchor="start" font-weight="normal" stroke="#000" stroke-width="0.2">17 Nov 23:00</text>
<rect x="1089" y="931" width="1" height="3" fill="#000"/>
<text transform="translate(1088.7,943) scale(0.97,1)" font-size="9.7" fill="#000" text-anchor="start" font-weight="normal" stroke="#000" stroke-width="0.2">19 Nov 04:00</text>
<rect x="1153" y="931" width="1" height="3" fill="#000"/>
<text transform="translate(1152.7,943) scale(0.97,1)" font-size="9.7" fill="#000" text-anchor="start" font-weight="normal" stroke="#000" stroke-width="0.2">20 Nov 12:00</text>
<rect x="1217" y="931" width="1" height="3" fill="#000"/>
<text transform="translate(1216.7,943) scale(0.97,1)" font-size="9.7" fill="#000" text-anchor="start" font-weight="normal" stroke="#000" stroke-width="0.2">21 Nov 20:00</text>
<rect x="1281" y="931" width="1" height="3" fill="#000"/>
<text transform="translate(1280.7,943) scale(0.97,1)" font-size="9.7" fill="#000" text-anchor="start" font-weight="normal" stroke="#000" stroke-width="0.2">25 Nov 04:00</text>
<text transform="translate(16,42) scale(0.925,1)" font-size="9.9" fill="#000" text-anchor="start" font-weight="normal" style="word-spacing:0.6px" stroke="#000" stroke-width="0.2">GBPJPY-,H4&#160;&#160;140.604 140.607 140.554 140.564</text>
<path d="M4 41.2 L11 41.2 L7.5 36.9Z" fill="#000"/>
<text transform="translate(5.4,580) scale(0.93,1)" font-size="9.9" fill="#000" text-anchor="start" font-weight="normal" stroke="#000" stroke-width="0.2"><tspan letter-spacing="0.65">MACD</tspan>(12,26,9) 0.0597 -0.0781</text>
<text transform="translate(5.5,783) scale(0.94,1)" font-size="9.9" fill="#000" text-anchor="start" font-weight="normal" stroke="#000" stroke-width="0.2">RSI(14) 58.5318</text>
<path d="M1330 31h9v1h-9zM1331 32h7v1h-7zM1332 33h5v1h-5zM1333 34h3v1h-3zM1334 35h1v1h-1z" fill="#c0c0c0" shape-rendering="crispEdges"/>
</g>
<g>
<defs>
<linearGradient id="g1" x1="0" y1="0" x2="0" y2="1"><stop offset="0" stop-color="#f65050"/><stop offset="1" stop-color="#dc2828"/></linearGradient>
<linearGradient id="g2" x1="0" y1="0" x2="0" y2="1"><stop offset="0" stop-color="#dc2a2a"/><stop offset="0.55" stop-color="#c81414"/><stop offset="1" stop-color="#b00000"/></linearGradient>
<linearGradient id="g3" x1="0" y1="0" x2="0" y2="1"><stop offset="0" stop-color="#f4f4f4"/><stop offset="1" stop-color="#dcdcdc"/></linearGradient>
</defs>
<rect x="4" y="50" width="52" height="24" fill="url(#g1)"/>
<rect x="171" y="50" width="52" height="24" fill="url(#g1)"/>
<rect x="4" y="74" width="109" height="40" fill="url(#g2)"/>
<rect x="115" y="74" width="108" height="40" fill="url(#g2)"/>
<rect x="8" y="74" width="44" height="1" fill="#f08080"/>
<rect x="175" y="74" width="44" height="1" fill="#f08080"/>
<rect x="56" y="50" width="115" height="24" fill="#fff"/>
<rect x="58.5" y="50.5" width="110" height="21" fill="#fff" stroke="#a0a0a0"/>
<rect x="59" y="51" width="20" height="20" fill="url(#g3)"/>
<rect x="148" y="51" width="20" height="20" fill="url(#g3)"/>
<rect x="79" y="51" width="1" height="20" fill="#b0b0b0"/>
<rect x="147" y="51" width="1" height="20" fill="#b0b0b0"/>
<path d="M66 59.5 L72 59.5 L69 62.5Z" fill="#000"/>
<path d="M155 62.5 L161 62.5 L158 59.5Z" fill="#000"/>
<text x="144" y="66" font-size="12" fill="#000" text-anchor="end" font-weight="normal">1.00</text>
<text transform="translate(29,66) scale(0.925,1)" font-size="11.5" fill="#ffe8e8" text-anchor="middle" font-weight="normal">SELL</text>
<text x="196" y="66" font-size="11.5" fill="#ffe8e8" text-anchor="middle" font-weight="normal">BUY</text>
<text x="38" y="105" font-size="12" fill="#fff" text-anchor="middle" font-weight="bold">140</text>
<text x="69.5" y="105" font-size="33" fill="#fff" text-anchor="middle" font-weight="normal" letter-spacing="-1.5">56</text>
<text x="94.5" y="89" font-size="12" fill="#fff" text-anchor="middle" font-weight="bold">4</text>
<text x="148" y="105" font-size="12" fill="#fff" text-anchor="middle" font-weight="bold">140</text>
<text x="180" y="105" font-size="33" fill="#fff" text-anchor="middle" font-weight="normal" letter-spacing="-1.5">60</text>
<text x="205.5" y="89" font-size="12" fill="#fff" text-anchor="middle" font-weight="bold">8</text>
</g>
<defs>
<linearGradient id="gp" x1="0" y1="0" x2="1" y2="1"><stop offset="0" stop-color="#7dff7d"/><stop offset="0.5" stop-color="#10e020"/><stop offset="1" stop-color="#06a010"/></linearGradient>
<linearGradient id="gold" x1="0" y1="0" x2="1" y2="1"><stop offset="0" stop-color="#f8dc50"/><stop offset="0.5" stop-color="#ecc010"/><stop offset="1" stop-color="#c88a10"/></linearGradient>
<linearGradient id="cloud" x1="0" y1="0" x2="0" y2="1"><stop offset="0" stop-color="#ffffff"/><stop offset="1" stop-color="#b8c4dc"/></linearGradient>
<linearGradient id="blu" x1="0" y1="0" x2="0" y2="1"><stop offset="0" stop-color="#2a90f0"/><stop offset="1" stop-color="#08a8ff"/></linearGradient>
<linearGradient id="cnd" x1="0" y1="0" x2="1" y2="0"><stop offset="0" stop-color="#30d040"/><stop offset="0.5" stop-color="#90ff98"/><stop offset="1" stop-color="#20c030"/></linearGradient>
<radialGradient id="lens" cx="0.5" cy="0.4" r="0.6"><stop offset="0" stop-color="#eefaff"/><stop offset="1" stop-color="#c4e6f6"/></radialGradient>
<linearGradient id="hat" x1="0" y1="0" x2="0" y2="1"><stop offset="0" stop-color="#7cc8ee"/><stop offset="1" stop-color="#3a98cc"/></linearGradient>
<linearGradient id="face" x1="0" y1="0" x2="1" y2="1"><stop offset="0" stop-color="#fff27a"/><stop offset="1" stop-color="#e8b010"/></linearGradient>
<radialGradient id="stop" cx="0.4" cy="0.35" r="0.7"><stop offset="0" stop-color="#ff5030"/><stop offset="1" stop-color="#c81000"/></radialGradient>
<linearGradient id="clk" x1="0" y1="0" x2="1" y2="1"><stop offset="0" stop-color="#3a9af0"/><stop offset="1" stop-color="#0a48a8"/></linearGradient>
<linearGradient id="sweep" x1="0.3" y1="0" x2="0.5" y2="1"><stop offset="0" stop-color="#d8e8d8" stop-opacity="0.6"/><stop offset="0.55" stop-color="#a0d098" stop-opacity="0.9"/><stop offset="1" stop-color="#20a020"/></linearGradient>
<linearGradient id="tgr" x1="0" y1="0" x2="1" y2="1"><stop offset="0" stop-color="#3aa818"/><stop offset="1" stop-color="#2a8808"/></linearGradient>
<linearGradient id="tbl" x1="0" y1="0" x2="1" y2="1"><stop offset="0" stop-color="#3a68e0"/><stop offset="1" stop-color="#0830b0"/></linearGradient>
</defs>
<g id="toolbar">
<rect x="0" y="0" width="1676" height="28" fill="#f0f0f0"/>
<rect x="0" y="25" width="1676" height="1" fill="#f8f8f8"/>
<rect x="0" y="26" width="1676" height="1" fill="#a0a0a0"/>
<rect x="0" y="27" width="1676" height="1" fill="#696969"/>
<rect x="0" y="28" width="1676" height="2" fill="#ffffff"/>
<rect x="0" y="0" width="1676" height="1" fill="#ffffff"/>
<rect x="1675" y="28" width="1" height="920" fill="#e4e4e4"/>
<path d="M0.5 6.5 H8.5 L11.5 9.5 V19.5 H0.5 Z" fill="#fff" stroke="#707070" stroke-width="1"/>
<path d="M8.5 6.5 V9.5 H11.5" fill="none" stroke="#707070" stroke-width="1"/>
<g fill="#909090" shape-rendering="crispEdges"><rect x="2" y="8" width="3" height="1"/><rect x="2" y="12" width="5" height="1"/><rect x="2" y="14" width="5" height="1"/><rect x="2" y="16" width="2" height="1"/></g>
<path d="M8.5 12.5 h3 v4 h4 v3 h-4 v4 h-3 v-4 h-4 v-3 h4 Z" fill="url(#gp)" stroke="#0a8a10" stroke-width="1" stroke-linejoin="round"/>
<text x="19" y="16.4" font-size="12.2" fill="#000" text-anchor="start" font-family="'Liberation Sans','Noto Sans CJK SC',sans-serif">新订单</text>
<path d="M72.5 7 L81.8 13.1 L82.9 16 L75 21.7 L67.2 16 L71.1 11.3 Z" fill="url(#gold)" stroke="#a8701a" stroke-width="1" stroke-linejoin="round"/>
<path d="M67.5 16 L75 20 L82.5 14.5" fill="none" stroke="#b07818" stroke-width="0.8"/>
<path d="M68 14.8 L75.2 18.6 L81.8 13.6" fill="none" stroke="#fff0a0" stroke-width="0.8" opacity="0.8"/>
<path d="M97.5 7 L100 6 H106.5 L108 7.5 V15 H97.5 Z" fill="url(#blu)" stroke="#2a7ae0" stroke-width="0.6"/>
<path d="M97.8 7 L100.6 9 V15 M100.6 9 H108" fill="none" stroke="#e8f6ff" stroke-width="0.7"/>
<rect x="102" y="10.5" width="4.5" height="1.2" fill="#e8f8ff"/>
<path d="M98.5 21.5 C94.5 21.5 94.5 16.8 98 16.6 C98.5 14 102 13.6 103.2 15.6 C105 13.8 108.2 14.8 108 17 C111.5 16.8 111.8 21.5 108.2 21.5 Z" fill="url(#cloud)" stroke="#4060a0" stroke-width="1" stroke-linejoin="round"/>
<path d="M131.5 14 L131.5 22 A8 8 0 0 0 133.5 6.4 Z" fill="url(#sweep)" opacity="0.85"/>
<circle cx="131" cy="14" r="7.6" fill="none" stroke="#5a82d8" stroke-width="1" opacity="0.75"/>
<circle cx="131" cy="14" r="4.6" fill="none" stroke="#5a82d8" stroke-width="1" opacity="0.7"/>
<circle cx="131" cy="13.8" r="2" fill="#2858c8"/>
<rect x="131" y="14" width="1.2" height="8" fill="#18a018"/>
<path d="M150.3 13.6 L165.8 12.5 L158 21.7 Z" fill="url(#face)" stroke="#c89010" stroke-width="0.8" stroke-linejoin="round"/>
<ellipse cx="158" cy="10.8" rx="7.8" ry="2.6" fill="url(#hat)" stroke="#2a80b0" stroke-width="0.8"/>
<path d="M154 10.5 C154 5 162 5 162 10.5 Z" fill="url(#hat)" stroke="#2a80b0" stroke-width="0.8"/>
<circle cx="162.4" cy="17.8" r="4.1" fill="url(#stop)" stroke="#b01000" stroke-width="0.6"/>
<rect x="161" y="16.4" width="2.8" height="2.8" fill="#fff"/>
<text x="171.6" y="16.4" font-size="11.75" fill="#000" text-anchor="start" font-family="'Liberation Sans','Noto Sans CJK SC',sans-serif">自动交易</text>
<rect x="226" y="0" width="1" height="26" fill="#8c8c8c" shape-rendering="crispEdges"/>
<rect x="227" y="0" width="1" height="26" fill="#ffffff" shape-rendering="crispEdges"/>
<rect x="230" y="4" width="3" height="1" fill="#a0a0a0" shape-rendering="crispEdges"/>
<rect x="230" y="6" width="3" height="1" fill="#a0a0a0" shape-rendering="crispEdges"/>
<rect x="230" y="8" width="3" height="1" fill="#a0a0a0" shape-rendering="crispEdges"/>
<rect x="230" y="10" width="3" height="1" fill="#a0a0a0" shape-rendering="crispEdges"/>
<rect x="230" y="12" width="3" height="1" fill="#a0a0a0" shape-rendering="crispEdges"/>
<rect x="230" y="14" width="3" height="1" fill="#a0a0a0" shape-rendering="crispEdges"/>
<rect x="230" y="16" width="3" height="1" fill="#a0a0a0" shape-rendering="crispEdges"/>
<rect x="230" y="18" width="3" height="1" fill="#a0a0a0" shape-rendering="crispEdges"/>
<rect x="230" y="20" width="3" height="1" fill="#a0a0a0" shape-rendering="crispEdges"/>
<rect x="230" y="22" width="3" height="1" fill="#a0a0a0" shape-rendering="crispEdges"/>
<g shape-rendering="crispEdges" fill="#505050"><rect x="244" y="8" width="1" height="14"/><rect x="242" y="19" width="14" height="1"/></g>
<path d="M242.5 10.5 L244.5 7.5 L246.5 10.5 Z M254 17.5 L257 19.5 L254 21.5 Z" fill="#505050"/>
<g fill="#008000" shape-rendering="crispEdges"><rect x="250" y="9" width="1" height="9"/><rect x="251" y="10" width="2" height="1"/><rect x="248" y="16" width="2" height="1"/></g>
<rect x="249.8" y="9" width="1.4" height="9" fill="#008000"/>
<g shape-rendering="crispEdges"><rect x="264" y="2" width="26" height="23" fill="#f8f8f8"/><rect x="264" y="2" width="26" height="1" fill="#a0a0a0"/><rect x="264" y="2" width="1" height="23" fill="#a0a0a0"/><rect x="289" y="2" width="1" height="23" fill="#ffffff"/><rect x="264" y="24" width="26" height="1" fill="#ffffff"/></g>
<g shape-rendering="crispEdges" fill="#505050"><rect x="272" y="8" width="1" height="14"/><rect x="270" y="19" width="14" height="1"/></g>
<path d="M270.5 10.5 L272.5 7.5 L274.5 10.5 Z M282 17.5 L285 19.5 L282 21.5 Z" fill="#505050"/>
<rect x="278" y="6" width="1" height="12" fill="#008000" shape-rendering="crispEdges"/>
<rect x="276.5" y="8.5" width="4" height="7" fill="url(#cnd)" stroke="#008000" stroke-width="1"/>
<g shape-rendering="crispEdges" fill="#505050"><rect x="300" y="8" width="1" height="14"/><rect x="298" y="19" width="14" height="1"/></g>
<path d="M298.5 10.5 L300.5 7.5 L302.5 10.5 Z M310 17.5 L313 19.5 L310 21.5 Z" fill="#505050"/>
<path d="M299.2 16.5 C302 14.5 303.5 11 305.4 11.2 C307.5 11.4 308.5 14.5 310.8 15" fill="none" stroke="#208020" stroke-width="1.3"/>
<rect x="321" y="3" width="1" height="21" fill="#a0a0a0" shape-rendering="crispEdges"/>
<path d="M340.2 16.2 L345 20.6" stroke="#a87808" stroke-width="3.6" stroke-linecap="butt"/>
<path d="M340.4 16.4 L344.8 20.4" stroke="#ecd040" stroke-width="2" stroke-linecap="butt"/>
<circle cx="336" cy="11.9" r="5.6" fill="url(#lens)" stroke="#2a6ab8" stroke-width="1.1"/>
<rect x="332.5" y="11.1" width="7" height="1.7" fill="#3a86a8"/>
<rect x="335.15" y="8.4" width="1.7" height="7" fill="#3a86a8"/>
<path d="M368.2 16.2 L373 20.6" stroke="#a87808" stroke-width="3.6" stroke-linecap="butt"/>
<path d="M368.4 16.4 L372.8 20.4" stroke="#ecd040" stroke-width="2" stroke-linecap="butt"/>
<circle cx="364" cy="11.9" r="5.6" fill="url(#lens)" stroke="#2a6ab8" stroke-width="1.1"/>
<rect x="360.5" y="11.1" width="7" height="1.7" fill="#3a86a8"/>
<rect x="386" y="6" width="8" height="8" fill="url(#tgr)"/>
<rect x="387" y="7" width="1" height="1" fill="#fff" opacity="0.8"/>
<path d="M387.5 9.5 H392.8 V13 H391.8 V12 H388.5 V13 H387.5 Z" fill="#fff"/>
<rect x="388.6" y="10.3" width="3.2" height="0.8" fill="#9ad888"/>
<rect x="394" y="6" width="8" height="8" fill="url(#tbl)"/>
<rect x="395" y="7" width="1" height="1" fill="#fff" opacity="0.8"/>
<path d="M395.5 9.5 H400.8 V13 H399.8 V12 H396.5 V13 H395.5 Z" fill="#fff"/>
<rect x="396.6" y="10.3" width="3.2" height="0.8" fill="#90a8f0"/>
<rect x="386" y="14" width="8" height="8" fill="url(#tbl)"/>
<rect x="387" y="15" width="1" height="1" fill="#fff" opacity="0.8"/>
<path d="M387.5 17.5 H392.8 V21 H391.8 V20 H388.5 V21 H387.5 Z" fill="#fff"/>
<rect x="388.6" y="18.3" width="3.2" height="0.8" fill="#90a8f0"/>
<rect x="394" y="14" width="8" height="8" fill="url(#tgr)"/>
<rect x="395" y="15" width="1" height="1" fill="#fff" opacity="0.8"/>
<path d="M395.5 17.5 H400.8 V21 H399.8 V20 H396.5 V21 H395.5 Z" fill="#fff"/>
<rect x="396.6" y="18.3" width="3.2" height="0.8" fill="#9ad888"/>
<rect x="411" y="3" width="1" height="21" fill="#a0a0a0" shape-rendering="crispEdges"/>
<g shape-rendering="crispEdges"><rect x="416" y="2" width="26" height="23" fill="#f8f8f8"/><rect x="416" y="2" width="26" height="1" fill="#a0a0a0"/><rect x="416" y="2" width="1" height="23" fill="#a0a0a0"/><rect x="441" y="2" width="1" height="23" fill="#ffffff"/><rect x="416" y="24" width="26" height="1" fill="#ffffff"/></g>
<g shape-rendering="crispEdges" fill="#505050"><rect x="424" y="8" width="1" height="14"/><rect x="422" y="19" width="14" height="1"/></g>
<path d="M422.5 10.5 L424.5 7.5 L426.5 10.5 Z M434 17.5 L437 19.5 L434 21.5 Z" fill="#505050"/>
<path d="M429.3 10.2 L433 13.4 L429.3 16.6 Z" fill="#7de07d" stroke="#18a018" stroke-width="1" stroke-linejoin="round"/>
<g shape-rendering="crispEdges"><rect x="444" y="2" width="26" height="23" fill="#f8f8f8"/><rect x="444" y="2" width="26" height="1" fill="#a0a0a0"/><rect x="444" y="2" width="1" height="23" fill="#a0a0a0"/><rect x="469" y="2" width="1" height="23" fill="#ffffff"/><rect x="444" y="24" width="26" height="1" fill="#ffffff"/></g>
<g shape-rendering="crispEdges" fill="#505050"><rect x="452" y="8" width="1" height="14"/><rect x="450" y="19" width="14" height="1"/></g>
<path d="M450.5 10.5 L452.5 7.5 L454.5 10.5 Z M462 17.5 L465 19.5 L462 21.5 Z" fill="#505050"/>
<rect x="457.8" y="8" width="1.5" height="10" fill="#1a6a9a"/>
<path d="M459.4 13.4 L462 11 L461.6 12.9 L464 13.4 L461.6 13.9 L462 15.8 Z" fill="#d84a08" stroke="#c03800" stroke-width="0.5"/>
<rect x="473" y="3" width="1" height="21" fill="#a0a0a0" shape-rendering="crispEdges"/>
<path d="M484 6.8 H491.5 L494.5 9.8 V19.5 H484 Z" fill="#fff" stroke="#808080" stroke-width="1"/>
<path d="M491.5 6.8 V9.8 H494.5" fill="none" stroke="#808080" stroke-width="0.8"/>
<path d="M488.8 9.5 C486.5 9.2 487 12 487 17.5 M485.8 12.5 H488.5" fill="none" stroke="#5a4a30" stroke-width="0.9"/>
<path d="M491.5 12.7 h3 v4 h4 v3 h-4 v4 h-3 v-4 h-4 v-3 h4 Z" fill="url(#gp)" stroke="#0a8a10" stroke-width="1" stroke-linejoin="round"/>
<path d="M505 13 L511 13 L508 16 Z" fill="#000"/>
<circle cx="529.1" cy="13.9" r="6.8" fill="#fff" stroke="url(#clk)" stroke-width="2.2"/>
<circle cx="529.1" cy="13.9" r="7.8" fill="none" stroke="#0a4aa8" stroke-width="0.5"/>
<path d="M528.8 9.8 V14 H531.8" fill="none" stroke="#202020" stroke-width="1.1"/>
<g fill="#888"><rect x="528.8" y="8.3" width="0.7" height="0.9"/><rect x="528.8" y="18.4" width="0.7" height="0.9" fill="#4a90f0"/><rect x="523.8" y="13.6" width="0.9" height="0.7"/><rect x="533.6" y="13.6" width="0.9" height="0.7"/></g>
<path d="M544 13 L550 13 L547 16 Z" fill="#000"/>
<rect x="560.5" y="7.5" width="15" height="13.5" fill="#fff" stroke="#3a78c0" stroke-width="1"/>
<rect x="561" y="8" width="14" height="2" fill="#4a8ad8"/>
<rect x="561" y="15" width="14" height="1" fill="#6a9ae0"/>
<path d="M562.5 13.3 L564.5 13.3 L566 12 L567.8 11.3 L569.5 12.6 L571.5 12.4 L573 11.2 L574 11.2" fill="none" stroke="#a02000" stroke-width="1"/>
<path d="M563 18.3 L564.5 18.3 L566 17.3 L567.5 18.4 L569 17.6 L570.8 16.4 L572 16.8 L573.5 18.3" fill="none" stroke="#108020" stroke-width="1"/>
<path d="M583 13 L589 13 L586 16 Z" fill="#000"/>
<rect x="594" y="0" width="1" height="26" fill="#8c8c8c" shape-rendering="crispEdges"/>
<rect x="595" y="0" width="1" height="26" fill="#ffffff" shape-rendering="crispEdges"/>
<rect x="598" y="4" width="3" height="1" fill="#a0a0a0" shape-rendering="crispEdges"/>
<rect x="598" y="6" width="3" height="1" fill="#a0a0a0" shape-rendering="crispEdges"/>
<rect x="598" y="8" width="3" height="1" fill="#a0a0a0" shape-rendering="crispEdges"/>
<rect x="598" y="10" width="3" height="1" fill="#a0a0a0" shape-rendering="crispEdges"/>
<rect x="598" y="12" width="3" height="1" fill="#a0a0a0" shape-rendering="crispEdges"/>
<rect x="598" y="14" width="3" height="1" fill="#a0a0a0" shape-rendering="crispEdges"/>
<rect x="598" y="16" width="3" height="1" fill="#a0a0a0" shape-rendering="crispEdges"/>
<rect x="598" y="18" width="3" height="1" fill="#a0a0a0" shape-rendering="crispEdges"/>
<rect x="598" y="20" width="3" height="1" fill="#a0a0a0" shape-rendering="crispEdges"/>
<rect x="598" y="22" width="3" height="1" fill="#a0a0a0" shape-rendering="crispEdges"/>
<g shape-rendering="crispEdges"><rect x="604" y="2" width="26" height="23" fill="#f8f8f8"/><rect x="604" y="2" width="26" height="1" fill="#a0a0a0"/><rect x="604" y="2" width="1" height="23" fill="#a0a0a0"/><rect x="629" y="2" width="1" height="23" fill="#ffffff"/><rect x="604" y="24" width="26" height="1" fill="#ffffff"/></g>
<path d="M612 6.8 L612 18.1 L614.6 15.7 L617 21.1 L618.8 20.2 L616.4 14.9 L620.1 14.5 Z" fill="#505050"/>
<g fill="#505050" shape-rendering="crispEdges"><rect x="637" y="14" width="6" height="1"/><rect x="646" y="14" width="6" height="1"/><rect x="644" y="7" width="1" height="6"/><rect x="644" y="16" width="1" height="6"/></g>
<rect x="644" y="14" width="1" height="1" fill="#909060"/>
<rect x="661" y="3" width="1" height="21" fill="#a0a0a0" shape-rendering="crispEdges"/>
<rect x="678" y="8" width="1" height="13" fill="#505050" shape-rendering="crispEdges"/>
<rect x="701" y="14" width="12" height="1" fill="#505050" shape-rendering="crispEdges"/>
<path d="M728.8 21 L741.2 8.6" stroke="#505050" stroke-width="1.1"/>
<g stroke="#505050" stroke-width="0.9" fill="none"><path d="M754.7 15.8 L762.9 8.2"/><path d="M755.7 19.7 L768.1 8.6"/><path d="M759.9 21 L769.1 12.5"/><path d="M756.5 17.5 L758 14.5 L759 18.5 L761 12.5 L762.5 16.5 L764.5 10.5 L765.5 14 L767 7 L767.8 12"/></g>
<text x="765.6" y="23" font-size="7" font-weight="bold" fill="#404040">E</text>
<line x1="784" y1="7.5" x2="797" y2="7.5" stroke="#505050" stroke-width="1" stroke-dasharray="1,1" shape-rendering="crispEdges"/>
<line x1="784" y1="10.5" x2="797" y2="10.5" stroke="#505050" stroke-width="1" stroke-dasharray="1,1" shape-rendering="crispEdges"/>
<line x1="784" y1="14.5" x2="797" y2="14.5" stroke="#505050" stroke-width="1" stroke-dasharray="1,1" shape-rendering="crispEdges"/>
<line x1="784" y1="18.5" x2="793" y2="18.5" stroke="#505050" stroke-width="1" stroke-dasharray="1,1" shape-rendering="crispEdges"/>
<text x="793.4" y="23" font-size="7" font-weight="bold" fill="#404040">F</text>
<text x="818.6" y="19" font-size="12.5" text-anchor="middle" fill="#505050" stroke="#505050" stroke-width="0.5">A</text>
<rect x="841.5" y="8.5" width="11" height="12" fill="none" stroke="#505050" stroke-width="1" stroke-dasharray="1,1" shape-rendering="crispEdges"/>
<rect x="840" y="7" width="2" height="1" fill="#505050"/>
<text x="847" y="18.7" font-size="10.5" text-anchor="middle" fill="#505050" stroke="#505050" stroke-width="0.4">T</text>
<path d="M871.5 7.9 L875 10.8 L873.2 12.5 L869.8 12.5 L868 10.8 Z" fill="#505050"/>
<path d="M878.6 21 L875.2 18.1 L877 16.4 L880.4 16.4 L882.1 18.1 Z" fill="#505050"/>
<path d="M870.5 15.5 L872.5 17.3 L876.5 11.6" fill="none" stroke="#505050" stroke-width="1.2"/>
<path d="M889 13 L895 13 L892 16 Z" fill="#000"/>
<rect x="900" y="0" width="1" height="26" fill="#8c8c8c" shape-rendering="crispEdges"/>
<rect x="901" y="0" width="1" height="26" fill="#ffffff" shape-rendering="crispEdges"/>
<rect x="904" y="4" width="3" height="1" fill="#a0a0a0" shape-rendering="crispEdges"/>
<rect x="904" y="6" width="3" height="1" fill="#a0a0a0" shape-rendering="crispEdges"/>
<rect x="904" y="8" width="3" height="1" fill="#a0a0a0" shape-rendering="crispEdges"/>
<rect x="904" y="10" width="3" height="1" fill="#a0a0a0" shape-rendering="crispEdges"/>
<rect x="904" y="12" width="3" height="1" fill="#a0a0a0" shape-rendering="crispEdges"/>
<rect x="904" y="14" width="3" height="1" fill="#a0a0a0" shape-rendering="crispEdges"/>
<rect x="904" y="16" width="3" height="1" fill="#a0a0a0" shape-rendering="crispEdges"/>
<rect x="904" y="18" width="3" height="1" fill="#a0a0a0" shape-rendering="crispEdges"/>
<rect x="904" y="20" width="3" height="1" fill="#a0a0a0" shape-rendering="crispEdges"/>
<rect x="904" y="22" width="3" height="1" fill="#a0a0a0" shape-rendering="crispEdges"/>
<g shape-rendering="crispEdges"><rect x="1050" y="2" width="26" height="23" fill="#f8f8f8"/><rect x="1050" y="2" width="26" height="1" fill="#a0a0a0"/><rect x="1050" y="2" width="1" height="23" fill="#a0a0a0"/><rect x="1075" y="2" width="1" height="23" fill="#ffffff"/><rect x="1050" y="24" width="26" height="1" fill="#ffffff"/></g>
<text transform="translate(922,18) scale(0.93,1)" font-size="9.9" text-anchor="middle" fill="#404040" stroke="#404040" stroke-width="0.15">M1</text>
<text transform="translate(950,18) scale(0.93,1)" font-size="9.9" text-anchor="middle" fill="#404040" stroke="#404040" stroke-width="0.15">M5</text>
<text transform="translate(978,18) scale(0.93,1)" font-size="9.9" text-anchor="middle" fill="#404040" stroke="#404040" stroke-width="0.15">M15</text>
<text transform="translate(1006,18) scale(0.93,1)" font-size="9.9" text-anchor="middle" fill="#404040" stroke="#404040" stroke-width="0.15">M30</text>
<text transform="translate(1034,18) scale(0.93,1)" font-size="9.9" text-anchor="middle" fill="#404040" stroke="#404040" stroke-width="0.15">H1</text>
<text transform="translate(1062,18) scale(0.93,1)" font-size="9.9" text-anchor="middle" fill="#404040" stroke="#404040" stroke-width="0.15">H4</text>
<text transform="translate(1090,18) scale(0.93,1)" font-size="9.9" text-anchor="middle" fill="#404040" stroke="#404040" stroke-width="0.15">D1</text>
<text transform="translate(1119,18) scale(0.93,1)" font-size="9.9" text-anchor="middle" fill="#404040" stroke="#404040" stroke-width="0.15">W1</text>
<text transform="translate(1146,18) scale(0.93,1)" font-size="9.9" text-anchor="middle" fill="#404040" stroke="#404040" stroke-width="0.15">MN</text>
<rect x="1161" y="1" width="1" height="25" fill="#a0a0a0" shape-rendering="crispEdges"/>
<path d="M1628.6 14.7 L1624 18.9" stroke="#2a52c8" stroke-width="3" stroke-linecap="round"/>
<path d="M1628.6 14.7 L1624 18.9" stroke="#7aa0f0" stroke-width="1" stroke-dasharray="0.8,0.8"/>
<circle cx="1631.4" cy="11.4" r="4" fill="#f6f8ff" stroke="#2a5ad0" stroke-width="1.4"/>
<defs><linearGradient id="bub" x1="0" y1="0" x2="0" y2="1"><stop offset="0" stop-color="#ffffff"/><stop offset="1" stop-color="#dcdce6"/></linearGradient></defs>
<path d="M1657.8 11.2 C1657.8 4.8 1671 4.8 1671 11.2 C1671 14 1669 15.6 1667 15.8 L1667.6 18 L1665.2 15.9 C1660 16 1657.8 14 1657.8 11.2 Z" fill="url(#bub)" stroke="#8a8a8a" stroke-width="0.9" stroke-linejoin="round"/>
<path d="M1650.2 15 C1650.2 10 1660.6 10 1660.6 15 C1660.6 18 1657 19 1654.6 18.7 L1652.3 20.6 L1652.8 18.3 C1651 17.6 1650.2 16.5 1650.2 15 Z" fill="url(#bub)" stroke="#7a7a7a" stroke-width="0.9" stroke-linejoin="round"/>
</g>
</svg>
</body></html>
